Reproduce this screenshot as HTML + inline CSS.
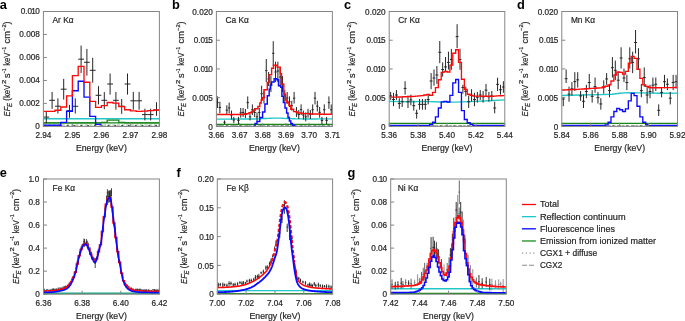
<!DOCTYPE html>
<html><head><meta charset="utf-8"><title>Figure</title>
<style>html,body{margin:0;padding:0;background:#fff;} svg{display:block;filter:grayscale(0%);} text{font-family:"Liberation Sans", sans-serif;stroke:#262626;stroke-width:0.2px;} text.L{stroke:none;}</style>
</head><body>
<svg width="685" height="321" viewBox="0 0 685 321">
<rect width="685" height="321" fill="#fff"/>
<g id="panel-a">
<clipPath id="clip-a"><rect x="43.4" y="-8.5" width="116.00" height="134.90"/></clipPath>
<g clip-path="url(#clip-a)">
<line x1="43.40" y1="125.00" x2="159.40" y2="125.00" stroke="#9a9a9a" stroke-width="0.9" stroke-dasharray="3 1.6"/><line x1="46.40" y1="125.70" x2="159.40" y2="125.70" stroke="#0d6b0d" stroke-width="1.3" stroke-dasharray="1.8 5.0"/>
<path d="M43.40,118.70 L159.40,118.70" stroke="#22c7c7" stroke-width="1.4" fill="none" stroke-linejoin="miter" />
<path d="M43.40,122.90 L159.40,122.90" stroke="#178717" stroke-width="1.4" fill="none" stroke-linejoin="miter" />
<path d="M43.40,122.90H49.20V122.90H55.00V122.90H60.80V122.90H66.60V122.90H72.40V122.90H78.20V122.90H84.00V122.90H89.80V122.90H95.60V122.90H101.40V122.40H107.20V120.10H113.00V120.10H118.80V122.40H124.60V122.90H130.40V122.90H136.20V122.90H142.00V122.90H147.80V122.90H153.60V122.90H159.40" stroke="#178717" stroke-width="1.3" fill="none" stroke-linejoin="miter" />
<path d="M46.30,112.00V123.20M43.40,117.10H49.20M52.10,91.90V108.80M49.20,100.30H55.00M57.90,98.30V113.50M55.00,106.20H60.80M63.70,78.90V99.60M60.80,89.20H66.60M69.50,104.90V117.70M66.60,110.80H72.40M75.30,98.30V113.50M72.40,106.30H78.20M81.10,45.60V73.00M78.20,59.20H84.00M86.90,48.90V75.60M84.00,62.30H89.80M92.70,57.80V82.70M89.80,70.30H95.60M98.50,86.20V104.40M95.60,95.30H101.40M104.30,92.10V109.20M101.40,100.30H107.20M110.10,73.50V94.60M107.20,84.00H113.00M115.90,91.90V109.70M113.00,100.30H118.80M121.70,99.00V113.90M118.80,106.20H124.60M127.50,73.50V94.60M124.60,84.00H130.40M133.30,91.90V109.70M130.40,100.80H136.20M139.10,91.90V109.70M136.20,100.80H142.00M144.90,108.70V120.40M142.00,114.60H147.80M150.70,108.70V120.40M147.80,114.60H153.60M156.50,102.20V115.80M153.60,110.10H159.40" stroke="#262626" stroke-width="1.0" fill="none"/>
<path d="M43.40,125.20H49.20V125.20H55.00V125.20H60.80V122.30H66.60V111.20H72.40V90.70H78.20V81.20H84.00V97.10H89.80V116.40H95.60V124.30H101.40V126.80H107.20V126.80H113.00V126.80H118.80V126.80H124.60V126.80H130.40V126.80H136.20V126.80H142.00V126.80H147.80V126.80H153.60V126.80H159.40" stroke="#0a0aff" stroke-width="1.35" fill="none" stroke-linejoin="miter" />
<path d="M43.40,111.40H49.20V111.40H55.00V110.20H60.80V107.00H66.60V95.80H72.40V75.60H78.20V66.40H84.00V82.20H89.80V101.40H95.60V107.30H101.40V105.60H107.20V102.50H113.00V103.10H118.80V106.60H124.60V109.70H130.40V110.90H136.20V111.30H142.00V111.10H147.80V110.60H153.60V110.00H159.40" stroke="#ff0a0a" stroke-width="1.35" fill="none" stroke-linejoin="miter" />
</g>
<rect x="43.4" y="11.5" width="116.00" height="114.90" fill="none" stroke="#858585" stroke-width="1"/>
<line x1="43.40" y1="126.4" x2="43.40" y2="122.90" stroke="#858585" stroke-width="1"/>
<line x1="72.40" y1="126.4" x2="72.40" y2="122.90" stroke="#858585" stroke-width="1"/>
<line x1="101.40" y1="126.4" x2="101.40" y2="122.90" stroke="#858585" stroke-width="1"/>
<line x1="130.40" y1="126.4" x2="130.40" y2="122.90" stroke="#858585" stroke-width="1"/>
<line x1="159.40" y1="126.4" x2="159.40" y2="122.90" stroke="#858585" stroke-width="1"/>
<line x1="43.4" y1="126.40" x2="46.90" y2="126.40" stroke="#858585" stroke-width="1"/>
<line x1="43.4" y1="103.42" x2="46.90" y2="103.42" stroke="#858585" stroke-width="1"/>
<line x1="43.4" y1="80.44" x2="46.90" y2="80.44" stroke="#858585" stroke-width="1"/>
<line x1="43.4" y1="57.46" x2="46.90" y2="57.46" stroke="#858585" stroke-width="1"/>
<line x1="43.4" y1="34.48" x2="46.90" y2="34.48" stroke="#858585" stroke-width="1"/>
<line x1="43.4" y1="11.50" x2="46.90" y2="11.50" stroke="#858585" stroke-width="1"/>
<text x="43.40" y="138.10" text-anchor="middle" font-size="8.2" fill="#262626">2.94</text>
<text x="72.40" y="138.10" text-anchor="middle" font-size="8.2" fill="#262626">2.95</text>
<text x="101.40" y="138.10" text-anchor="middle" font-size="8.2" fill="#262626">2.96</text>
<text x="130.40" y="138.10" text-anchor="middle" font-size="8.2" fill="#262626">2.97</text>
<text x="159.40" y="138.10" text-anchor="middle" font-size="8.2" fill="#262626">2.98</text>
<text x="39.80" y="128.85" text-anchor="end" font-size="8.2" fill="#262626">0</text>
<text x="39.80" y="105.87" text-anchor="end" font-size="8.2" fill="#262626">0.002</text>
<text x="39.80" y="82.89" text-anchor="end" font-size="8.2" fill="#262626">0.004</text>
<text x="39.80" y="59.91" text-anchor="end" font-size="8.2" fill="#262626">0.006</text>
<text x="39.80" y="36.93" text-anchor="end" font-size="8.2" fill="#262626">0.008</text>
<text x="39.80" y="13.95" text-anchor="end" font-size="8.2" fill="#262626">0.0<tspan dx="-0.7">1</tspan><tspan dx="-0.7">0</tspan></text>
<text x="101.40" y="150.60" text-anchor="middle" font-size="8.7" fill="#262626" textLength="50.9" lengthAdjust="spacingAndGlyphs">Energy (keV)</text>
<g transform="translate(10.40,0) rotate(-90)"><text x="-116.40" y="0" font-size="8.9" font-style="italic" fill="#262626" textLength="9.70" lengthAdjust="spacingAndGlyphs">EF</text><text x="-107.05" y="1.9" font-size="6.4" font-style="italic" fill="#262626" textLength="4.05" lengthAdjust="spacingAndGlyphs">E</text><text x="-100.70" y="0" font-size="8.9" font-style="normal" fill="#262626" textLength="15.90" lengthAdjust="spacingAndGlyphs">(keV</text><text x="-83.90" y="-4.6" font-size="5.6" font-style="normal" fill="#262626" textLength="4.30" lengthAdjust="spacingAndGlyphs">2</text><text x="-78.10" y="0" font-size="8.9" font-style="normal" fill="#262626" textLength="4.50" lengthAdjust="spacingAndGlyphs">s</text><text x="-73.60" y="-4.6" font-size="5.6" font-style="normal" fill="#262626" textLength="4.90" lengthAdjust="spacingAndGlyphs">−1</text><text x="-65.80" y="0" font-size="8.9" font-style="normal" fill="#262626" textLength="13.30" lengthAdjust="spacingAndGlyphs">keV</text><text x="-52.30" y="-4.6" font-size="5.6" font-style="normal" fill="#262626" textLength="5.40" lengthAdjust="spacingAndGlyphs">−1</text><text x="-43.40" y="0" font-size="8.9" font-style="normal" fill="#262626" textLength="12.40" lengthAdjust="spacingAndGlyphs">cm</text><text x="-30.90" y="-4.6" font-size="5.6" font-style="normal" fill="#262626" textLength="6.60" lengthAdjust="spacingAndGlyphs">−2</text><text x="-24.60" y="0" font-size="8.9" font-style="normal" fill="#262626" textLength="3.00" lengthAdjust="spacingAndGlyphs">)</text></g>
<text x="52.50" y="23.40" font-size="8.7" fill="#262626" textLength="21.07" lengthAdjust="spacingAndGlyphs">Ar Kα</text>
<text x="-0.30" y="8.90" font-size="12.8" font-weight="bold" fill="#000" class="L">a</text>
</g>
<g id="panel-b">
<clipPath id="clip-b"><rect x="216.4" y="-8.5" width="116.00" height="134.90"/></clipPath>
<g clip-path="url(#clip-b)">
<line x1="216.40" y1="125.40" x2="332.40" y2="125.40" stroke="#9a9a9a" stroke-width="0.9" stroke-dasharray="3 1.6"/><line x1="219.40" y1="126.10" x2="332.40" y2="126.10" stroke="#0d6b0d" stroke-width="1.3" stroke-dasharray="1.8 5.0"/>
<path d="M216.40,119.10 L218.40,119.10 L220.40,119.09 L222.40,119.09 L224.40,119.09 L226.40,119.08 L228.40,119.08 L230.40,119.08 L232.40,119.07 L234.40,119.07 L236.40,119.07 L238.40,119.06 L240.40,119.06 L242.40,119.05 L244.40,119.05 L246.40,119.04 L248.40,119.02 L250.40,119.01 L252.40,118.98 L254.40,118.95 L256.40,118.90 L258.40,118.84 L260.40,118.76 L262.40,118.66 L264.40,118.56 L266.40,118.45 L268.40,118.34 L270.40,118.24 L272.40,118.16 L274.40,118.11 L276.40,118.10 L278.40,118.12 L280.40,118.17 L282.40,118.25 L284.40,118.35 L286.40,118.46 L288.40,118.56 L290.40,118.65 L292.40,118.73 L294.40,118.80 L296.40,118.85 L298.40,118.89 L300.40,118.91 L302.40,118.92 L304.40,118.93 L306.40,118.94 L308.40,118.94 L310.40,118.94 L312.40,118.93 L314.40,118.93 L316.40,118.93 L318.40,118.92 L320.40,118.92 L322.40,118.92 L324.40,118.91 L326.40,118.91 L328.40,118.91 L330.40,118.90 L332.40,118.90" stroke="#22c7c7" stroke-width="1.4" fill="none" stroke-linejoin="miter" />
<path d="M216.40,124.40 L332.40,124.40" stroke="#178717" stroke-width="1.4" fill="none" stroke-linejoin="miter" />
<path d="M217.56,96.40V108.00M216.40,102.60H218.72M219.88,101.70V113.30M218.72,107.50H221.04M224.52,120.40V124.00M223.36,122.20H225.68M226.84,105.30V115.00M225.68,110.15H228.00M229.16,102.60V113.30M228.00,107.95H230.32M231.48,110.60V119.50M230.32,115.05H232.64M233.80,116.90V123.10M232.64,120.00H234.96M238.44,116.90V124.00M237.28,120.45H239.60M240.76,108.00V117.70M239.60,112.85H241.92M243.08,108.00V116.90M241.92,112.45H244.24M245.40,109.00V118.00M244.24,113.50H246.56M247.72,96.40V108.80M246.56,102.60H248.88M250.04,113.30V120.40M248.88,116.85H251.20M252.36,104.40V115.00M251.20,109.70H253.52M254.68,108.00V117.00M253.52,112.50H255.84M257.00,112.40V121.30M255.84,116.85H258.16M259.32,108.00V117.00M258.16,112.50H260.48M261.64,85.70V100.00M260.48,93.70H262.80M263.96,91.00V103.50M262.80,97.30H265.12M266.28,59.00V82.20M265.12,70.60H267.44M268.60,72.00V86.00M267.44,79.00H269.76M270.92,76.00V92.00M269.76,84.00H272.08M273.24,41.20V66.00M272.08,53.30H274.40M275.56,61.70V82.00M274.40,72.00H276.72M277.88,61.70V82.00M276.72,71.00H279.04M280.20,66.80V87.00M279.04,77.00H281.36M282.52,76.00V92.00M281.36,84.00H283.68M284.84,90.10V101.70M283.68,95.90H286.00M287.16,92.00V104.00M286.00,98.00H288.32M289.48,96.40V107.00M288.32,101.70H290.64M291.80,100.80V110.60M290.64,105.70H292.96M294.12,91.90V103.50M292.96,98.20H295.28M296.44,107.00V116.90M295.28,111.95H297.60M298.76,110.00V119.00M297.60,114.50H299.92M301.08,104.40V115.00M299.92,109.70H302.24M303.40,110.60V119.50M302.24,115.05H304.56M305.72,112.40V121.30M304.56,116.85H306.88M308.04,108.80V117.70M306.88,113.25H309.20M310.36,110.00V119.00M309.20,114.50H311.52M312.68,104.40V115.00M311.52,109.70H313.84M315.00,91.90V104.40M313.84,98.15H316.16M317.32,100.80V111.50M316.16,106.15H318.48M319.64,107.00V117.70M318.48,112.35H320.80M321.96,116.90V124.00M320.80,120.45H323.12M324.28,104.40V115.00M323.12,109.70H325.44M326.60,116.90V124.00M325.44,120.45H327.76M328.92,96.40V108.80M327.76,102.60H330.08M331.24,104.40V115.00M330.08,109.70H332.40" stroke="#262626" stroke-width="1.0" fill="none"/>
<path d="M216.40,126.80H255.10V123.50H257.00V121.50H259.80V117.50H262.60V112.00H264.90V104.00H267.30V95.80H269.20V89.10H270.30V85.30H271.60V82.00H274.10V78.60H277.00V79.70H278.50V85.70H280.80V87.20H281.90V96.20H283.40V102.50H285.00V108.00H286.60V113.00H288.00V117.50H289.40V121.00H290.80V123.50H292.50V125.30H294.50V126.80H332.40" stroke="#0a0aff" stroke-width="1.45" fill="none" stroke-linejoin="miter" />
<path d="M216.40,114.50H238.00V114.50H243.00V114.20H246.70V113.60H249.00V112.80H251.40V111.60H253.30V110.30H255.10V108.80H257.90V106.40H259.80V103.00H261.20V100.00H262.50V97.70H264.00V89.80H267.30V82.40H269.20V74.70H271.60V68.20H273.50V65.20H277.20V67.10H280.20V73.80H281.50V84.20H283.80V94.30H285.60V100.00H286.80V102.50H288.90V105.50H290.80V109.20H293.60V111.60H297.00V113.00H302.00V113.60H310.00V114.00H320.00V114.20H332.40" stroke="#ff0a0a" stroke-width="1.45" fill="none" stroke-linejoin="miter" />
</g>
<rect x="216.4" y="11.5" width="116.00" height="114.90" fill="none" stroke="#858585" stroke-width="1"/>
<line x1="216.40" y1="126.4" x2="216.40" y2="122.90" stroke="#858585" stroke-width="1"/>
<line x1="239.60" y1="126.4" x2="239.60" y2="122.90" stroke="#858585" stroke-width="1"/>
<line x1="262.80" y1="126.4" x2="262.80" y2="122.90" stroke="#858585" stroke-width="1"/>
<line x1="286.00" y1="126.4" x2="286.00" y2="122.90" stroke="#858585" stroke-width="1"/>
<line x1="309.20" y1="126.4" x2="309.20" y2="122.90" stroke="#858585" stroke-width="1"/>
<line x1="332.40" y1="126.4" x2="332.40" y2="122.90" stroke="#858585" stroke-width="1"/>
<line x1="216.4" y1="126.40" x2="219.90" y2="126.40" stroke="#858585" stroke-width="1"/>
<line x1="216.4" y1="97.68" x2="219.90" y2="97.68" stroke="#858585" stroke-width="1"/>
<line x1="216.4" y1="68.95" x2="219.90" y2="68.95" stroke="#858585" stroke-width="1"/>
<line x1="216.4" y1="40.22" x2="219.90" y2="40.22" stroke="#858585" stroke-width="1"/>
<line x1="216.4" y1="11.50" x2="219.90" y2="11.50" stroke="#858585" stroke-width="1"/>
<text x="216.40" y="138.10" text-anchor="middle" font-size="8.2" fill="#262626">3.66</text>
<text x="239.60" y="138.10" text-anchor="middle" font-size="8.2" fill="#262626">3.67</text>
<text x="262.80" y="138.10" text-anchor="middle" font-size="8.2" fill="#262626">3.68</text>
<text x="286.00" y="138.10" text-anchor="middle" font-size="8.2" fill="#262626">3.69</text>
<text x="309.20" y="138.10" text-anchor="middle" font-size="8.2" fill="#262626">3.70</text>
<text x="332.40" y="138.10" text-anchor="middle" font-size="8.2" fill="#262626">3.7<tspan dx="-0.7">1</tspan></text>
<text x="212.80" y="129.60" text-anchor="end" font-size="8.2" fill="#262626">0</text>
<text x="212.80" y="100.88" text-anchor="end" font-size="8.2" fill="#262626">0.005</text>
<text x="212.80" y="72.15" text-anchor="end" font-size="8.2" fill="#262626">0.0<tspan dx="-0.7">1</tspan><tspan dx="-0.7">0</tspan></text>
<text x="212.80" y="43.42" text-anchor="end" font-size="8.2" fill="#262626">0.0<tspan dx="-0.7">1</tspan><tspan dx="-0.7">5</tspan></text>
<text x="212.80" y="14.70" text-anchor="end" font-size="8.2" fill="#262626">0.020</text>
<text x="274.40" y="150.60" text-anchor="middle" font-size="8.7" fill="#262626" textLength="50.9" lengthAdjust="spacingAndGlyphs">Energy (keV)</text>
<g transform="translate(184.10,0) rotate(-90)"><text x="-116.40" y="0" font-size="8.9" font-style="italic" fill="#262626" textLength="9.70" lengthAdjust="spacingAndGlyphs">EF</text><text x="-107.05" y="1.9" font-size="6.4" font-style="italic" fill="#262626" textLength="4.05" lengthAdjust="spacingAndGlyphs">E</text><text x="-100.70" y="0" font-size="8.9" font-style="normal" fill="#262626" textLength="15.90" lengthAdjust="spacingAndGlyphs">(keV</text><text x="-83.90" y="-4.6" font-size="5.6" font-style="normal" fill="#262626" textLength="4.30" lengthAdjust="spacingAndGlyphs">2</text><text x="-78.10" y="0" font-size="8.9" font-style="normal" fill="#262626" textLength="4.50" lengthAdjust="spacingAndGlyphs">s</text><text x="-73.60" y="-4.6" font-size="5.6" font-style="normal" fill="#262626" textLength="4.90" lengthAdjust="spacingAndGlyphs">−1</text><text x="-65.80" y="0" font-size="8.9" font-style="normal" fill="#262626" textLength="13.30" lengthAdjust="spacingAndGlyphs">keV</text><text x="-52.30" y="-4.6" font-size="5.6" font-style="normal" fill="#262626" textLength="5.40" lengthAdjust="spacingAndGlyphs">−1</text><text x="-43.40" y="0" font-size="8.9" font-style="normal" fill="#262626" textLength="12.40" lengthAdjust="spacingAndGlyphs">cm</text><text x="-30.90" y="-4.6" font-size="5.6" font-style="normal" fill="#262626" textLength="6.60" lengthAdjust="spacingAndGlyphs">−2</text><text x="-24.60" y="0" font-size="8.9" font-style="normal" fill="#262626" textLength="3.00" lengthAdjust="spacingAndGlyphs">)</text></g>
<text x="225.50" y="23.40" font-size="8.7" fill="#262626" textLength="23.40" lengthAdjust="spacingAndGlyphs">Ca Kα</text>
<text x="172.10" y="8.90" font-size="12.8" font-weight="bold" fill="#000" class="L">b</text>
</g>
<g id="panel-c">
<clipPath id="clip-c"><rect x="389.2" y="-8.5" width="115.60" height="134.90"/></clipPath>
<g clip-path="url(#clip-c)">
<line x1="389.20" y1="125.40" x2="504.80" y2="125.40" stroke="#9a9a9a" stroke-width="0.9" stroke-dasharray="3 1.6"/><line x1="392.20" y1="126.10" x2="504.80" y2="126.10" stroke="#0d6b0d" stroke-width="1.3" stroke-dasharray="1.8 5.0"/>
<path d="M389.20,101.40 L410.00,101.80 L425.00,101.40 L440.00,102.00 L455.00,102.10 L470.00,101.60 L489.00,100.70 L504.80,99.90" stroke="#22c7c7" stroke-width="1.4" fill="none" stroke-linejoin="miter" />
<path d="M389.20,123.40 L504.80,123.40" stroke="#178717" stroke-width="1.4" fill="none" stroke-linejoin="miter" />
<path d="M390.64,91.90V99.90M389.20,95.90H392.09M393.53,92.80V106.20M392.09,99.50H394.98M396.43,90.10V99.90M394.98,95.00H397.87M399.31,98.20V108.80M397.87,103.50H400.76M402.20,96.40V107.00M400.76,101.70H403.65M405.09,81.20V94.60M403.65,88.40H406.54M407.99,95.50V108.00M406.54,101.75H409.43M410.88,94.60V105.30M409.43,99.95H412.32M413.76,100.80V110.60M412.32,105.70H415.21M416.65,109.70V118.60M415.21,113.30H418.10M419.55,99.00V109.70M418.10,104.35H420.99M422.44,99.00V109.70M420.99,104.35H423.88M425.32,99.00V109.70M423.88,104.35H426.77M428.21,94.60V104.40M426.77,99.50H429.66M431.11,73.10V89.20M429.66,81.00H432.55M434.00,69.50V85.70M432.55,78.00H435.44M436.88,66.00V83.90M435.44,75.00H438.33M439.77,41.00V63.20M438.33,52.30H441.22M442.67,62.40V76.60M441.22,69.50H444.11M445.56,57.00V72.20M444.11,66.90H447.00M448.44,51.70V69.50M447.00,62.40H449.89M451.33,48.90V69.80M449.89,59.50H452.78M457.12,24.20V48.20M455.67,36.60H458.56M460.00,48.70V69.80M458.56,59.50H461.45M462.89,84.80V93.70M461.45,87.50H464.34M465.79,86.60V96.40M464.34,91.50H467.23M468.68,95.50V108.00M467.23,101.75H470.12M471.56,89.20V101.70M470.12,95.45H473.01M474.45,92.80V106.20M473.01,99.50H475.90M477.35,91.90V102.60M475.90,97.25H478.79M480.24,90.10V99.90M478.79,95.00H481.68M483.12,91.00V102.60M481.68,96.80H484.57M486.01,83.90V96.40M484.57,90.15H487.46M488.91,91.90V101.70M487.46,96.80H490.35M491.80,91.00V100.80M490.35,95.90H493.24M494.69,101.70V113.30M493.24,108.00H496.13M497.57,77.70V91.00M496.13,84.35H499.02M500.47,84.80V94.60M499.02,89.70H501.91M503.36,81.20V92.80M501.91,87.00H504.80" stroke="#262626" stroke-width="1.0" fill="none"/>
<path d="M389.20,125.30H392.09V125.30H394.98V125.30H397.87V125.30H400.76V125.30H403.65V125.30H406.54V125.30H409.43V125.30H412.32V125.30H415.21V125.30H418.10V125.30H420.99V125.30H423.88V125.30H426.77V125.30H429.66V124.60H432.55V122.20H435.44V116.90H438.33V108.00H441.22V101.80H444.11V101.40H447.00V102.00H449.89V95.40H452.78V82.90H455.67V79.50H458.56V92.30H461.45V110.60H464.34V119.50H467.23V122.70H470.12V124.60H473.01V125.30H475.90V125.30H478.79V125.30H481.68V125.30H484.57V125.30H487.46V125.30H490.35V125.30H493.24V125.30H496.13V125.30H499.02V125.30H501.91V125.30H504.80" stroke="#0a0aff" stroke-width="1.35" fill="none" stroke-linejoin="miter" />
<path d="M389.20,97.25H392.09V97.15H394.98V97.06H397.87V96.96H400.76V96.86H403.65V96.77H406.54V96.67H409.43V96.53H412.32V96.30H415.21V96.07H418.10V95.84H420.99V95.61H423.88V94.99H426.77V94.33H429.66V95.40H432.55V92.30H435.44V87.60H438.33V79.70H441.22V72.30H444.11V71.40H447.00V72.00H449.89V65.10H452.78V53.20H455.67V49.70H458.56V62.30H461.45V79.20H464.34V89.50H467.23V94.20H470.12V95.40H473.01V96.07H475.90V96.11H478.79V96.15H481.68V96.20H484.57V96.24H487.46V96.28H490.35V96.20H493.24V96.05H496.13V95.89H499.02V95.73H501.91V95.58H504.80" stroke="#ff0a0a" stroke-width="1.35" fill="none" stroke-linejoin="miter" />
</g>
<rect x="389.2" y="11.5" width="115.60" height="114.90" fill="none" stroke="#858585" stroke-width="1"/>
<line x1="389.20" y1="126.4" x2="389.20" y2="122.90" stroke="#858585" stroke-width="1"/>
<line x1="418.10" y1="126.4" x2="418.10" y2="122.90" stroke="#858585" stroke-width="1"/>
<line x1="447.00" y1="126.4" x2="447.00" y2="122.90" stroke="#858585" stroke-width="1"/>
<line x1="475.90" y1="126.4" x2="475.90" y2="122.90" stroke="#858585" stroke-width="1"/>
<line x1="504.80" y1="126.4" x2="504.80" y2="122.90" stroke="#858585" stroke-width="1"/>
<line x1="389.2" y1="126.40" x2="392.70" y2="126.40" stroke="#858585" stroke-width="1"/>
<line x1="389.2" y1="97.68" x2="392.70" y2="97.68" stroke="#858585" stroke-width="1"/>
<line x1="389.2" y1="68.95" x2="392.70" y2="68.95" stroke="#858585" stroke-width="1"/>
<line x1="389.2" y1="40.22" x2="392.70" y2="40.22" stroke="#858585" stroke-width="1"/>
<line x1="389.2" y1="11.50" x2="392.70" y2="11.50" stroke="#858585" stroke-width="1"/>
<text x="389.20" y="138.10" text-anchor="middle" font-size="8.2" fill="#262626">5.36</text>
<text x="418.10" y="138.10" text-anchor="middle" font-size="8.2" fill="#262626">5.38</text>
<text x="447.00" y="138.10" text-anchor="middle" font-size="8.2" fill="#262626">5.40</text>
<text x="475.90" y="138.10" text-anchor="middle" font-size="8.2" fill="#262626">5.42</text>
<text x="504.80" y="138.10" text-anchor="middle" font-size="8.2" fill="#262626">5.44</text>
<text x="385.60" y="129.60" text-anchor="end" font-size="8.2" fill="#262626">0</text>
<text x="385.60" y="100.88" text-anchor="end" font-size="8.2" fill="#262626">0.005</text>
<text x="385.60" y="72.15" text-anchor="end" font-size="8.2" fill="#262626">0.0<tspan dx="-0.7">1</tspan><tspan dx="-0.7">0</tspan></text>
<text x="385.60" y="43.42" text-anchor="end" font-size="8.2" fill="#262626">0.0<tspan dx="-0.7">1</tspan><tspan dx="-0.7">5</tspan></text>
<text x="385.60" y="14.70" text-anchor="end" font-size="8.2" fill="#262626">0.020</text>
<text x="447.00" y="150.60" text-anchor="middle" font-size="8.7" fill="#262626" textLength="50.9" lengthAdjust="spacingAndGlyphs">Energy (keV)</text>
<g transform="translate(355.10,0) rotate(-90)"><text x="-116.40" y="0" font-size="8.9" font-style="italic" fill="#262626" textLength="9.70" lengthAdjust="spacingAndGlyphs">EF</text><text x="-107.05" y="1.9" font-size="6.4" font-style="italic" fill="#262626" textLength="4.05" lengthAdjust="spacingAndGlyphs">E</text><text x="-100.70" y="0" font-size="8.9" font-style="normal" fill="#262626" textLength="15.90" lengthAdjust="spacingAndGlyphs">(keV</text><text x="-83.90" y="-4.6" font-size="5.6" font-style="normal" fill="#262626" textLength="4.30" lengthAdjust="spacingAndGlyphs">2</text><text x="-78.10" y="0" font-size="8.9" font-style="normal" fill="#262626" textLength="4.50" lengthAdjust="spacingAndGlyphs">s</text><text x="-73.60" y="-4.6" font-size="5.6" font-style="normal" fill="#262626" textLength="4.90" lengthAdjust="spacingAndGlyphs">−1</text><text x="-65.80" y="0" font-size="8.9" font-style="normal" fill="#262626" textLength="13.30" lengthAdjust="spacingAndGlyphs">keV</text><text x="-52.30" y="-4.6" font-size="5.6" font-style="normal" fill="#262626" textLength="5.40" lengthAdjust="spacingAndGlyphs">−1</text><text x="-43.40" y="0" font-size="8.9" font-style="normal" fill="#262626" textLength="12.40" lengthAdjust="spacingAndGlyphs">cm</text><text x="-30.90" y="-4.6" font-size="5.6" font-style="normal" fill="#262626" textLength="6.60" lengthAdjust="spacingAndGlyphs">−2</text><text x="-24.60" y="0" font-size="8.9" font-style="normal" fill="#262626" textLength="3.00" lengthAdjust="spacingAndGlyphs">)</text></g>
<text x="398.30" y="23.40" font-size="8.7" fill="#262626" textLength="21.53" lengthAdjust="spacingAndGlyphs">Cr Kα</text>
<text x="343.90" y="8.90" font-size="12.8" font-weight="bold" fill="#000" class="L">c</text>
</g>
<g id="panel-d">
<clipPath id="clip-d"><rect x="561.8" y="-8.5" width="115.70" height="134.90"/></clipPath>
<g clip-path="url(#clip-d)">
<line x1="561.80" y1="125.40" x2="677.50" y2="125.40" stroke="#9a9a9a" stroke-width="0.9" stroke-dasharray="3 1.6"/><line x1="564.80" y1="126.10" x2="677.50" y2="126.10" stroke="#0d6b0d" stroke-width="1.3" stroke-dasharray="1.8 5.0"/>
<path d="M561.80,95.50 L580.00,95.00 L600.00,94.60 L612.00,94.20 L620.00,93.20 L628.00,92.60 L640.00,92.90 L660.00,93.20 L677.50,93.10" stroke="#22c7c7" stroke-width="1.4" fill="none" stroke-linejoin="miter" />
<path d="M561.80,123.40 L677.50,123.40" stroke="#178717" stroke-width="1.4" fill="none" stroke-linejoin="miter" />
<path d="M563.25,97.30V106.20M561.80,99.00H564.69M566.14,69.50V83.00M564.69,78.70H567.59M569.03,86.60V101.70M567.59,94.15H570.48M571.92,82.10V95.50M570.48,88.80H573.37M574.82,72.20V91.00M573.37,81.60H576.26M577.71,72.20V87.50M576.26,79.85H579.15M580.60,91.00V100.80M579.15,95.90H582.05M583.49,94.60V108.00M582.05,101.30H584.94M586.39,84.80V98.20M584.94,91.50H587.83M589.28,74.00V89.20M587.83,82.50H590.72M592.17,90.10V102.60M590.72,96.35H593.62M595.06,77.50V92.80M593.62,86.60H596.51M597.96,91.90V103.50M596.51,97.70H599.40M600.85,98.20V109.70M599.40,103.95H602.29M603.74,80.30V93.70M602.30,87.00H605.19M606.63,73.10V84.80M605.19,78.95H608.08M609.53,83.90V97.30M608.08,90.60H610.97M612.42,57.10V77.50M610.97,67.70H613.87M615.31,60.60V80.00M613.87,70.30H616.76M618.20,72.20V89.20M616.76,80.20H619.65M621.10,47.30V68.60M619.65,58.00H622.54M623.99,68.60V82.10M622.54,78.00H625.43M626.88,74.90V90.10M625.43,82.50H628.33M629.77,47.30V68.60M628.33,58.80H631.22M632.67,51.70V73.10M631.22,62.40H634.11M635.56,30.00V53.50M634.11,42.50H637.00M638.45,48.20V69.50M637.01,58.80H639.90M641.34,83.90V97.30M639.90,90.60H642.79M644.24,67.40V86.80M642.79,77.50H645.68M647.13,86.60V103.50M645.68,95.05H648.58M650.02,84.80V98.20M648.58,91.50H651.47M652.91,77.50V92.80M651.47,85.15H654.36M655.81,77.50V91.00M654.36,84.25H657.25M658.70,104.40V116.00M657.25,110.30H660.14M661.59,87.50V97.30M660.14,92.40H663.04M664.48,74.90V88.40M663.04,81.65H665.93M667.38,78.40V90.10M665.93,84.25H668.82M670.27,91.90V104.40M668.82,98.15H671.71M673.16,74.90V90.10M671.71,82.50H674.61M676.05,74.90V88.40M674.61,81.65H677.50" stroke="#262626" stroke-width="1.0" fill="none"/>
<path d="M561.80,125.30H564.69V125.30H567.58V125.30H570.48V125.30H573.37V125.30H576.26V125.30H579.15V125.30H582.05V125.30H584.94V125.30H587.83V125.30H590.72V125.30H593.62V125.30H596.51V125.30H599.40V125.30H602.29V125.30H605.19V124.80H608.08V122.20H610.97V116.90H613.87V111.50H616.76V108.50H619.65V109.70H622.54V111.50H625.43V108.80H628.33V100.80H631.22V93.30H634.11V95.60H637.00V106.20H639.90V116.90H642.79V122.20H645.68V124.60H648.58V125.60H651.47V125.30H654.36V125.30H657.25V125.30H660.14V125.30H663.04V125.30H665.93V125.30H668.82V125.30H671.72V125.30H674.61V125.30H677.50" stroke="#0a0aff" stroke-width="1.35" fill="none" stroke-linejoin="miter" />
<path d="M561.80,90.03H564.69V89.89H567.58V89.74H570.48V89.60H573.37V89.46H576.26V89.31H579.15V89.16H582.05V88.97H584.94V88.77H587.83V88.58H590.72V88.39H593.62V88.20H596.51V88.00H599.40V87.81H602.29V87.00H605.19V86.20H608.08V84.80H610.97V81.00H613.87V75.00H616.76V72.00H619.65V72.40H622.54V74.10H625.43V71.30H628.33V63.10H631.22V56.40H634.11V58.40H637.00V69.20H639.90V78.40H642.79V84.90H645.68V86.30H648.58V87.50H651.47V87.77H654.36V87.74H657.25V87.71H660.14V87.67H663.04V87.64H665.93V87.61H668.82V87.58H671.72V87.55H674.61V87.52H677.50" stroke="#ff0a0a" stroke-width="1.35" fill="none" stroke-linejoin="miter" />
</g>
<rect x="561.8" y="11.5" width="115.70" height="114.90" fill="none" stroke="#858585" stroke-width="1"/>
<line x1="561.80" y1="126.4" x2="561.80" y2="122.90" stroke="#858585" stroke-width="1"/>
<line x1="590.73" y1="126.4" x2="590.73" y2="122.90" stroke="#858585" stroke-width="1"/>
<line x1="619.65" y1="126.4" x2="619.65" y2="122.90" stroke="#858585" stroke-width="1"/>
<line x1="648.58" y1="126.4" x2="648.58" y2="122.90" stroke="#858585" stroke-width="1"/>
<line x1="677.50" y1="126.4" x2="677.50" y2="122.90" stroke="#858585" stroke-width="1"/>
<line x1="561.8" y1="126.40" x2="565.30" y2="126.40" stroke="#858585" stroke-width="1"/>
<line x1="561.8" y1="97.68" x2="565.30" y2="97.68" stroke="#858585" stroke-width="1"/>
<line x1="561.8" y1="68.95" x2="565.30" y2="68.95" stroke="#858585" stroke-width="1"/>
<line x1="561.8" y1="40.22" x2="565.30" y2="40.22" stroke="#858585" stroke-width="1"/>
<line x1="561.8" y1="11.50" x2="565.30" y2="11.50" stroke="#858585" stroke-width="1"/>
<text x="561.80" y="138.10" text-anchor="middle" font-size="8.2" fill="#262626">5.84</text>
<text x="590.73" y="138.10" text-anchor="middle" font-size="8.2" fill="#262626">5.86</text>
<text x="619.65" y="138.10" text-anchor="middle" font-size="8.2" fill="#262626">5.88</text>
<text x="648.58" y="138.10" text-anchor="middle" font-size="8.2" fill="#262626">5.90</text>
<text x="677.50" y="138.10" text-anchor="middle" font-size="8.2" fill="#262626">5.92</text>
<text x="558.20" y="129.60" text-anchor="end" font-size="8.2" fill="#262626">0</text>
<text x="558.20" y="100.88" text-anchor="end" font-size="8.2" fill="#262626">0.005</text>
<text x="558.20" y="72.15" text-anchor="end" font-size="8.2" fill="#262626">0.0<tspan dx="-0.7">1</tspan><tspan dx="-0.7">0</tspan></text>
<text x="558.20" y="43.42" text-anchor="end" font-size="8.2" fill="#262626">0.0<tspan dx="-0.7">1</tspan><tspan dx="-0.7">5</tspan></text>
<text x="558.20" y="14.70" text-anchor="end" font-size="8.2" fill="#262626">0.020</text>
<text x="619.65" y="150.60" text-anchor="middle" font-size="8.7" fill="#262626" textLength="50.9" lengthAdjust="spacingAndGlyphs">Energy (keV)</text>
<g transform="translate(527.80,0) rotate(-90)"><text x="-116.40" y="0" font-size="8.9" font-style="italic" fill="#262626" textLength="9.70" lengthAdjust="spacingAndGlyphs">EF</text><text x="-107.05" y="1.9" font-size="6.4" font-style="italic" fill="#262626" textLength="4.05" lengthAdjust="spacingAndGlyphs">E</text><text x="-100.70" y="0" font-size="8.9" font-style="normal" fill="#262626" textLength="15.90" lengthAdjust="spacingAndGlyphs">(keV</text><text x="-83.90" y="-4.6" font-size="5.6" font-style="normal" fill="#262626" textLength="4.30" lengthAdjust="spacingAndGlyphs">2</text><text x="-78.10" y="0" font-size="8.9" font-style="normal" fill="#262626" textLength="4.50" lengthAdjust="spacingAndGlyphs">s</text><text x="-73.60" y="-4.6" font-size="5.6" font-style="normal" fill="#262626" textLength="4.90" lengthAdjust="spacingAndGlyphs">−1</text><text x="-65.80" y="0" font-size="8.9" font-style="normal" fill="#262626" textLength="13.30" lengthAdjust="spacingAndGlyphs">keV</text><text x="-52.30" y="-4.6" font-size="5.6" font-style="normal" fill="#262626" textLength="5.40" lengthAdjust="spacingAndGlyphs">−1</text><text x="-43.40" y="0" font-size="8.9" font-style="normal" fill="#262626" textLength="12.40" lengthAdjust="spacingAndGlyphs">cm</text><text x="-30.90" y="-4.6" font-size="5.6" font-style="normal" fill="#262626" textLength="6.60" lengthAdjust="spacingAndGlyphs">−2</text><text x="-24.60" y="0" font-size="8.9" font-style="normal" fill="#262626" textLength="3.00" lengthAdjust="spacingAndGlyphs">)</text></g>
<text x="570.90" y="23.40" font-size="8.7" fill="#262626" textLength="24.32" lengthAdjust="spacingAndGlyphs">Mn Kα</text>
<text x="517.00" y="8.90" font-size="12.8" font-weight="bold" fill="#000" class="L">d</text>
</g>
<g id="panel-e">
<clipPath id="clip-e"><rect x="43.5" y="159.0" width="115.90" height="135.20"/></clipPath>
<g clip-path="url(#clip-e)">
<line x1="43.5" y1="293.8" x2="159.4" y2="293.8" stroke="#178717" stroke-width="1.2"/>
<line x1="43.5" y1="293.1" x2="159.4" y2="293.1" stroke="#13a48f" stroke-width="1.3"/>
<path d="M44.23,288.67V291.95M43.62,290.31H44.83M46.08,289.77V291.24M45.48,290.50H46.68M47.11,289.11V290.83M46.51,289.97H47.71M48.91,289.55V291.78M48.31,290.67H49.51M50.27,289.29V291.31M49.67,290.30H50.87M52.08,288.69V290.90M51.48,289.79H52.68M53.28,288.17V290.77M52.68,289.47H53.88M55.06,288.39V290.78M54.46,289.58H55.66M56.64,288.42V290.39M56.04,289.40H57.24M58.29,287.46V290.73M57.69,289.10H58.89M60.04,287.31V290.57M59.44,288.94H60.64M61.32,287.51V289.07M60.72,288.29H61.92M63.05,286.45V289.83M62.45,288.14H63.65M64.30,285.95V288.82M63.70,287.39H64.90M65.60,285.57V289.02M65.00,287.29H66.20M67.41,284.67V287.25M66.81,285.96H68.01M69.02,282.54V286.37M68.42,284.46H69.62M70.14,282.11V284.59M69.54,283.35H70.74M71.82,278.61V280.80M71.22,279.71H72.42M72.96,275.87V279.84M72.36,277.85H73.56M74.61,271.17V275.31M74.01,273.24H75.21M76.13,267.02V270.11M75.53,268.57H76.73M77.17,260.71V265.42M76.57,263.07H77.77M78.31,256.00V260.83M77.71,258.41H78.91M79.47,251.26V257.96M78.87,254.61H80.07M81.05,246.56V250.81M80.45,248.68H81.65M82.66,243.66V247.24M82.06,245.45H83.26M84.37,239.10V247.05M83.77,243.07H84.97M86.19,241.67V245.86M85.59,243.77H86.79M87.28,240.67V247.97M86.68,244.32H87.88M88.30,242.84V249.04M87.70,245.94H88.90M89.91,246.89V253.58M89.31,250.23H90.51M91.50,251.75V256.38M90.90,254.06H92.10M92.79,255.57V259.01M92.19,257.29H93.39M93.84,257.18V261.04M93.24,259.11H94.44M94.97,258.96V263.66M94.37,261.31H95.57M96.61,256.41V260.70M96.01,258.56H97.21M98.09,249.35V255.66M97.49,252.51H98.69M99.52,245.43V250.67M98.92,248.05H100.12M100.67,241.62V245.23M100.07,243.43H101.27M101.87,231.66V236.84M101.27,234.25H102.47M103.42,217.60V222.35M102.82,219.97H104.02M105.12,206.32V211.80M104.52,209.06H105.72M106.58,195.47V206.54M105.98,201.01H107.18M108.40,190.66V202.71M107.80,196.68H109.00M109.57,191.11V202.29M108.97,196.70H110.17M110.68,190.09V201.93M110.08,196.01H111.28M112.28,206.92V212.95M111.68,209.94H112.88M113.63,216.48V225.44M113.03,220.96H114.23M115.13,226.39V232.80M114.53,229.59H115.73M116.43,239.13V243.13M115.83,241.13H117.03M118.16,251.89V257.80M117.56,254.84H118.76M119.92,260.59V266.09M119.32,263.34H120.52M121.61,271.54V273.99M121.01,272.76H122.21M122.69,275.93V279.26M122.09,277.60H123.29M124.46,280.22V284.11M123.86,282.16H125.06M125.70,282.43V285.72M125.10,284.08H126.30M127.25,284.79V287.04M126.65,285.91H127.85M128.82,285.78V288.34M128.22,287.06H129.42M130.21,287.50V290.15M129.61,288.83H130.81M131.49,287.50V290.25M130.89,288.88H132.09M132.99,288.25V290.46M132.39,289.36H133.59M134.07,289.39V291.06M133.47,290.23H134.67M135.84,288.63V290.66M135.24,289.64H136.44M137.19,288.46V290.69M136.59,289.57H137.79M138.90,288.82V290.48M138.30,289.65H139.50M140.03,288.43V291.66M139.43,290.05H140.63M141.23,289.20V291.03M140.63,290.12H141.83M142.77,289.41V291.63M142.17,290.52H143.37M144.03,289.08V292.29M143.43,290.69H144.63M145.29,289.46V291.24M144.69,290.35H145.89M146.56,289.42V290.88M145.96,290.15H147.16M148.27,289.13V291.79M147.67,290.46H148.87M149.82,289.62V292.69M149.22,291.15H150.42M151.49,289.99V292.60M150.89,291.30H152.09M152.98,289.10V290.59M152.38,289.85H153.58M154.48,288.97V291.73M153.88,290.35H155.08M155.65,289.47V291.86M155.05,290.67H156.25M157.02,289.03V291.68M156.42,290.35H157.62M158.25,289.89V291.62M157.65,290.76H158.85M159.36,288.21V291.06M158.76,289.64H159.96M107.40,189.30V197.00M106.80,193.00H108.00M109.80,190.20V197.00M109.20,193.60H110.40M111.50,188.30V196.30M110.90,192.00H112.10M84.00,238.50V245.00M83.40,241.50H84.60M86.40,239.00V246.00M85.80,242.50H87.00M95.20,258.00V268.00M94.60,263.00H95.80" stroke="#202020" stroke-width="0.85" fill="none"/>
<path d="M43.50,291.10H45.43V291.07H47.36V291.01H49.29V290.94H51.22V290.85H53.15V290.66H55.08V290.38H57.01V290.04H58.94V289.66H60.87V289.25H62.80V288.72H64.73V287.96H66.66V286.69H68.59V284.75H70.52V281.39H72.45V277.57H74.38V272.31H76.31V263.95H78.24V255.76H80.17V249.54H82.10V245.18H84.03V243.62H85.96V244.80H87.89V248.74H89.82V254.17H91.75V258.63H93.68V261.69H95.61V258.90H97.54V251.74H99.47V244.68H101.40V231.50H103.33V216.72H105.26V204.28H107.19V197.98H109.12V197.69H111.05V206.98H112.98V223.03H114.91V237.51H116.84V251.82H118.77V262.57H120.70V273.30H122.63V280.77H124.56V284.64H126.49V287.13H128.42V288.58H130.35V289.54H132.28V290.14H134.21V290.43H136.14V290.67H138.07V290.86H140.00V290.99H141.93V291.08H143.86V291.13H145.79V291.17H147.72V291.20H149.65V291.23H151.58V291.26H153.51V291.28H155.44V291.29H157.37V291.30H159.30V291.30H159.40" stroke="#ff0a0a" stroke-width="1.5" fill="none" stroke-linejoin="miter" />
<path d="M43.50,292.40 L43.83,292.40 L44.17,292.40 L44.50,292.40 L44.84,292.39 L45.17,292.39 L45.50,292.38 L45.84,292.38 L46.17,292.37 L46.51,292.36 L46.84,292.36 L47.17,292.35 L47.51,292.34 L47.84,292.33 L48.18,292.32 L48.51,292.31 L48.84,292.30 L49.18,292.28 L49.51,292.27 L49.85,292.26 L50.18,292.25 L50.51,292.23 L50.85,292.22 L51.18,292.21 L51.52,292.19 L51.85,292.17 L52.18,292.15 L52.52,292.12 L52.85,292.10 L53.19,292.06 L53.52,292.03 L53.85,291.99 L54.19,291.95 L54.52,291.91 L54.86,291.86 L55.19,291.82 L55.52,291.77 L55.86,291.71 L56.19,291.66 L56.53,291.60 L56.86,291.55 L57.19,291.49 L57.53,291.43 L57.86,291.37 L58.20,291.30 L58.53,291.24 L58.86,291.17 L59.20,291.11 L59.53,291.04 L59.87,290.97 L60.20,290.90 L60.53,290.83 L60.87,290.77 L61.20,290.69 L61.54,290.62 L61.87,290.54 L62.20,290.46 L62.54,290.37 L62.87,290.28 L63.21,290.19 L63.54,290.09 L63.87,289.98 L64.21,289.87 L64.54,289.75 L64.88,289.62 L65.21,289.48 L65.54,289.34 L65.88,289.17 L66.21,288.99 L66.55,288.78 L66.88,288.56 L67.21,288.32 L67.55,288.06 L67.88,287.78 L68.22,287.48 L68.55,287.16 L68.88,286.83 L69.22,286.47 L69.55,286.06 L69.89,285.58 L70.22,285.05 L70.55,284.48 L70.89,283.87 L71.22,283.24 L71.56,282.58 L71.89,281.92 L72.22,281.23 L72.56,280.49 L72.89,279.71 L73.23,278.89 L73.56,278.03 L73.89,277.14 L74.23,276.22 L74.56,275.27 L74.90,274.29 L75.23,273.25 L75.56,272.14 L75.90,270.96 L76.23,269.67 L76.57,268.16 L76.90,266.50 L77.23,264.76 L77.57,263.05 L77.90,261.45 L78.24,260.05 L78.57,258.72 L78.90,257.46 L79.24,256.24 L79.57,255.07 L79.91,253.96 L80.24,252.89 L80.57,251.87 L80.91,250.84 L81.24,249.80 L81.58,248.80 L81.91,247.87 L82.24,247.06 L82.58,246.42 L82.91,245.96 L83.25,245.57 L83.58,245.19 L83.91,244.86 L84.25,244.58 L84.58,244.37 L84.92,244.24 L85.25,244.20 L85.58,244.27 L85.92,244.45 L86.25,244.70 L86.59,245.02 L86.92,245.39 L87.25,245.79 L87.59,246.22 L87.92,246.82 L88.26,247.62 L88.59,248.55 L88.92,249.55 L89.26,250.57 L89.59,251.54 L89.93,252.43 L90.26,253.33 L90.59,254.25 L90.93,255.16 L91.26,256.05 L91.60,256.89 L91.93,257.65 L92.26,258.32 L92.60,258.99 L92.93,259.67 L93.27,260.34 L93.60,260.97 L93.93,261.52 L94.27,261.96 L94.60,262.26 L94.94,262.40 L95.27,262.29 L95.60,261.87 L95.94,261.21 L96.27,260.37 L96.61,259.40 L96.94,258.38 L97.27,257.37 L97.61,256.26 L97.94,254.90 L98.28,253.40 L98.61,251.85 L98.94,250.35 L99.28,249.00 L99.61,247.86 L99.95,246.83 L100.28,245.79 L100.61,244.63 L100.95,243.24 L101.28,241.39 L101.62,238.73 L101.95,235.69 L102.29,232.78 L102.62,229.87 L102.95,226.93 L103.29,224.16 L103.62,221.71 L103.96,219.48 L104.29,217.36 L104.62,215.27 L104.96,213.12 L105.29,210.81 L105.63,208.47 L105.96,206.32 L106.29,204.54 L106.63,202.92 L106.96,201.45 L107.30,200.24 L107.63,199.45 L107.96,198.88 L108.30,198.37 L108.63,197.97 L108.97,197.70 L109.30,197.60 L109.63,197.73 L109.97,198.11 L110.30,198.68 L110.64,199.40 L110.97,200.40 L111.30,202.36 L111.64,204.82 L111.97,207.24 L112.31,209.89 L112.64,212.67 L112.97,215.46 L113.31,218.37 L113.64,221.24 L113.98,223.85 L114.31,226.11 L114.64,228.21 L114.98,230.36 L115.31,232.79 L115.65,235.82 L115.98,239.14 L116.31,242.10 L116.65,244.46 L116.98,246.57 L117.32,248.71 L117.65,251.18 L117.98,253.85 L118.32,256.29 L118.65,258.19 L118.99,259.79 L119.32,261.27 L119.65,262.78 L119.99,264.47 L120.32,266.39 L120.66,268.41 L120.99,270.37 L121.32,272.13 L121.66,273.84 L121.99,275.50 L122.33,277.06 L122.66,278.47 L122.99,279.68 L123.33,280.74 L123.66,281.74 L124.00,282.67 L124.33,283.53 L124.66,284.31 L125.00,285.01 L125.33,285.62 L125.67,286.16 L126.00,286.65 L126.33,287.12 L126.67,287.55 L127.00,287.96 L127.34,288.33 L127.67,288.66 L128.00,288.96 L128.34,289.22 L128.67,289.45 L129.01,289.65 L129.34,289.85 L129.67,290.04 L130.01,290.22 L130.34,290.39 L130.68,290.56 L131.01,290.71 L131.34,290.85 L131.68,290.98 L132.01,291.10 L132.35,291.21 L132.68,291.30 L133.01,291.39 L133.35,291.46 L133.68,291.51 L134.02,291.57 L134.35,291.62 L134.68,291.66 L135.02,291.71 L135.35,291.76 L135.69,291.80 L136.02,291.84 L136.35,291.89 L136.69,291.92 L137.02,291.96 L137.36,292.00 L137.69,292.03 L138.02,292.07 L138.36,292.10 L138.69,292.13 L139.03,292.16 L139.36,292.18 L139.69,292.21 L140.03,292.23 L140.36,292.26 L140.70,292.28 L141.03,292.30 L141.36,292.32 L141.70,292.33 L142.03,292.35 L142.37,292.36 L142.70,292.37 L143.03,292.38 L143.37,292.39 L143.70,292.40 L144.04,292.41 L144.37,292.42 L144.70,292.43 L145.04,292.43 L145.37,292.44 L145.71,292.45 L146.04,292.45 L146.37,292.46 L146.71,292.47 L147.04,292.47 L147.38,292.48 L147.71,292.49 L148.04,292.49 L148.38,292.50 L148.71,292.50 L149.05,292.51 L149.38,292.52 L149.71,292.52 L150.05,292.53 L150.38,292.53 L150.72,292.54 L151.05,292.54 L151.38,292.54 L151.72,292.55 L152.05,292.55 L152.39,292.56 L152.72,292.56 L153.05,292.56 L153.39,292.57 L153.72,292.57 L154.06,292.57 L154.39,292.58 L154.72,292.58 L155.06,292.58 L155.39,292.59 L155.73,292.59 L156.06,292.59 L156.39,292.59 L156.73,292.59 L157.06,292.60 L157.40,292.60 L157.73,292.60 L158.06,292.60 L158.40,292.60 L158.73,292.60 L159.07,292.60 L159.40,292.60" stroke="#0a0aff" stroke-width="1.7" fill="none" stroke-linejoin="miter" stroke-linejoin="round"/>
</g>
<rect x="43.5" y="179.0" width="115.90" height="115.20" fill="none" stroke="#858585" stroke-width="1"/>
<line x1="43.50" y1="294.2" x2="43.50" y2="290.70" stroke="#858585" stroke-width="1"/>
<line x1="82.13" y1="294.2" x2="82.13" y2="290.70" stroke="#858585" stroke-width="1"/>
<line x1="120.77" y1="294.2" x2="120.77" y2="290.70" stroke="#858585" stroke-width="1"/>
<line x1="159.40" y1="294.2" x2="159.40" y2="290.70" stroke="#858585" stroke-width="1"/>
<line x1="43.5" y1="294.20" x2="47.00" y2="294.20" stroke="#858585" stroke-width="1"/>
<line x1="43.5" y1="271.16" x2="47.00" y2="271.16" stroke="#858585" stroke-width="1"/>
<line x1="43.5" y1="248.12" x2="47.00" y2="248.12" stroke="#858585" stroke-width="1"/>
<line x1="43.5" y1="225.08" x2="47.00" y2="225.08" stroke="#858585" stroke-width="1"/>
<line x1="43.5" y1="202.04" x2="47.00" y2="202.04" stroke="#858585" stroke-width="1"/>
<line x1="43.5" y1="179.00" x2="47.00" y2="179.00" stroke="#858585" stroke-width="1"/>
<text x="43.50" y="306.20" text-anchor="middle" font-size="8.2" fill="#262626">6.36</text>
<text x="82.13" y="306.20" text-anchor="middle" font-size="8.2" fill="#262626">6.38</text>
<text x="120.77" y="306.20" text-anchor="middle" font-size="8.2" fill="#262626">6.40</text>
<text x="159.40" y="306.20" text-anchor="middle" font-size="8.2" fill="#262626">6.42</text>
<text x="39.90" y="297.40" text-anchor="end" font-size="8.2" fill="#262626">0</text>
<text x="39.90" y="274.36" text-anchor="end" font-size="8.2" fill="#262626">0.2</text>
<text x="39.90" y="251.32" text-anchor="end" font-size="8.2" fill="#262626">0.4</text>
<text x="39.90" y="228.28" text-anchor="end" font-size="8.2" fill="#262626">0.6</text>
<text x="39.90" y="205.24" text-anchor="end" font-size="8.2" fill="#262626">0.8</text>
<text x="39.90" y="182.20" text-anchor="end" font-size="8.2" fill="#262626"><tspan dx="-0.7">1</tspan><tspan dx="-0.7">.</tspan>0</text>
<text x="101.45" y="319.20" text-anchor="middle" font-size="8.7" fill="#262626" textLength="50.9" lengthAdjust="spacingAndGlyphs">Energy (keV)</text>
<g transform="translate(19.00,0) rotate(-90)"><text x="-283.90" y="0" font-size="8.9" font-style="italic" fill="#262626" textLength="9.70" lengthAdjust="spacingAndGlyphs">EF</text><text x="-274.55" y="1.9" font-size="6.4" font-style="italic" fill="#262626" textLength="4.05" lengthAdjust="spacingAndGlyphs">E</text><text x="-268.20" y="0" font-size="8.9" font-style="normal" fill="#262626" textLength="15.90" lengthAdjust="spacingAndGlyphs">(keV</text><text x="-251.40" y="-4.6" font-size="5.6" font-style="normal" fill="#262626" textLength="4.30" lengthAdjust="spacingAndGlyphs">2</text><text x="-245.60" y="0" font-size="8.9" font-style="normal" fill="#262626" textLength="4.50" lengthAdjust="spacingAndGlyphs">s</text><text x="-241.10" y="-4.6" font-size="5.6" font-style="normal" fill="#262626" textLength="4.90" lengthAdjust="spacingAndGlyphs">−1</text><text x="-233.30" y="0" font-size="8.9" font-style="normal" fill="#262626" textLength="13.30" lengthAdjust="spacingAndGlyphs">keV</text><text x="-219.80" y="-4.6" font-size="5.6" font-style="normal" fill="#262626" textLength="5.40" lengthAdjust="spacingAndGlyphs">−1</text><text x="-210.90" y="0" font-size="8.9" font-style="normal" fill="#262626" textLength="12.40" lengthAdjust="spacingAndGlyphs">cm</text><text x="-198.40" y="-4.6" font-size="5.6" font-style="normal" fill="#262626" textLength="6.60" lengthAdjust="spacingAndGlyphs">−2</text><text x="-192.10" y="0" font-size="8.9" font-style="normal" fill="#262626" textLength="3.00" lengthAdjust="spacingAndGlyphs">)</text></g>
<text x="52.60" y="190.90" font-size="8.7" fill="#262626" textLength="22.47" lengthAdjust="spacingAndGlyphs">Fe Kα</text>
<text x="-0.20" y="177.00" font-size="12.8" font-weight="bold" fill="#000" class="L">e</text>
</g>
<g id="panel-f">
<clipPath id="clip-f"><rect x="217.3" y="159.0" width="115.30" height="135.20"/></clipPath>
<g clip-path="url(#clip-f)">
<line x1="217.3" y1="290.6" x2="332.6" y2="290.6" stroke="#22c7c7" stroke-width="1.4"/>
<line x1="217.3" y1="293.7" x2="332.6" y2="293.7" stroke="#178717" stroke-width="1.3"/>
<path d="M218.30,282.73V287.29M217.60,285.01H219.00M220.26,282.92V286.19M219.56,284.55H220.96M222.85,282.56V287.16M222.15,284.86H223.55M224.61,283.56V285.99M223.91,284.77H225.31M226.90,283.70V286.96M226.20,285.33H227.60M229.07,281.19V285.85M228.37,283.52H229.77M230.97,281.63V285.29M230.27,283.46H231.67M233.25,283.20V286.65M232.55,284.93H233.95M235.06,282.66V286.34M234.36,284.50H235.76M237.57,282.26V285.80M236.87,284.03H238.27M239.95,281.14V284.02M239.25,282.58H240.65M241.94,281.40V286.03M241.24,283.72H242.64M243.41,281.11V284.64M242.71,282.87H244.11M245.46,281.94V284.30M244.76,283.12H246.16M246.92,279.68V282.67M246.22,281.17H247.62M249.38,278.73V282.93M248.68,280.83H250.08M251.27,278.69V282.34M250.57,280.51H251.97M253.75,277.78V281.74M253.05,279.76H254.45M255.45,274.99V280.08M254.75,277.53H256.15M257.38,274.79V278.37M256.68,276.58H258.08M258.89,273.82V279.05M258.19,276.44H259.59M261.09,271.59V274.01M260.39,272.80H261.79M263.36,269.58V274.04M262.66,271.81H264.06M265.87,265.59V270.18M265.17,267.88H266.57M267.33,265.35V269.01M266.63,267.18H268.03M269.55,261.70V266.07M268.85,263.88H270.25M270.97,258.56V264.43M270.27,261.50H271.67M272.75,254.58V257.63M272.05,256.10H273.45M274.66,246.54V250.45M273.96,248.49H275.36M276.11,240.09V244.45M275.41,242.27H276.81M291.83,236.45V240.78M291.13,238.62H292.53M293.85,255.32V258.78M293.15,257.05H294.55M296.27,269.89V274.48M295.57,272.19H296.97M298.77,276.77V280.42M298.07,278.60H299.47M300.48,278.63V282.10M299.78,280.36H301.18M302.96,280.70V283.25M302.26,281.97H303.66M305.47,281.16V284.81M304.77,282.99H306.17M307.93,283.73V286.21M307.23,284.97H308.63M309.54,282.50V286.34M308.84,284.42H310.24M311.04,283.41V287.36M310.34,285.38H311.74M312.48,284.31V287.21M311.78,285.76H313.18M314.27,282.07V285.78M313.57,283.92H314.97M315.81,283.75V287.49M315.11,285.62H316.51M318.35,282.64V287.20M317.65,284.92H319.05M320.31,284.33V287.08M319.61,285.71H321.01M322.55,284.48V289.21M321.85,286.85H323.25M324.52,284.97V287.46M323.82,286.21H325.22M326.59,284.29V289.18M325.89,286.74H327.29M328.86,284.68V288.78M328.16,286.73H329.56M331.08,285.43V288.78M330.38,287.11H331.78M284.40,200.20V213.80M283.70,205.00H285.10M282.00,215.60V223.00M281.30,219.00H282.70M287.20,223.60V232.00M286.50,227.00H287.90M279.80,228.00V238.00M279.10,233.00H280.50M289.60,232.00V240.00M288.90,236.00H290.30" stroke="#1e1e1e" stroke-width="0.9" fill="none"/>
<clipPath id="fclipA"><rect x="200" y="262" width="140" height="40"/></clipPath><clipPath id="fclipB"><rect x="200" y="190" width="140" height="72"/></clipPath>
<g clip-path="url(#fclipA)"><path d="M217.30,287.60 L217.46,287.60 L217.63,287.59 L217.79,287.59 L217.96,287.59 L218.12,287.58 L218.29,287.58 L218.45,287.57 L218.62,287.57 L218.78,287.56 L218.95,287.56 L219.11,287.55 L219.28,287.55 L219.44,287.54 L219.61,287.54 L219.77,287.53 L219.94,287.53 L220.10,287.52 L220.27,287.52 L220.43,287.51 L220.60,287.51 L220.76,287.50 L220.93,287.49 L221.09,287.49 L221.26,287.48 L221.42,287.47 L221.59,287.47 L221.75,287.46 L221.92,287.45 L222.08,287.45 L222.25,287.44 L222.41,287.43 L222.58,287.43 L222.74,287.42 L222.91,287.41 L223.07,287.40 L223.24,287.40 L223.40,287.39 L223.57,287.38 L223.73,287.38 L223.90,287.37 L224.06,287.36 L224.23,287.35 L224.39,287.34 L224.56,287.34 L224.72,287.33 L224.89,287.32 L225.05,287.31 L225.22,287.30 L225.38,287.30 L225.55,287.29 L225.71,287.28 L225.88,287.27 L226.04,287.26 L226.21,287.25 L226.37,287.24 L226.54,287.24 L226.70,287.23 L226.87,287.22 L227.03,287.21 L227.20,287.20 L227.36,287.19 L227.53,287.18 L227.69,287.17 L227.86,287.16 L228.02,287.15 L228.19,287.14 L228.35,287.13 L228.52,287.12 L228.68,287.11 L228.85,287.09 L229.01,287.08 L229.18,287.07 L229.34,287.06 L229.51,287.05 L229.67,287.04 L229.84,287.03 L230.00,287.01 L230.17,287.00 L230.33,286.99 L230.50,286.98 L230.66,286.96 L230.83,286.95 L230.99,286.94 L231.16,286.93 L231.32,286.91 L231.49,286.90 L231.65,286.88 L231.82,286.87 L231.98,286.86 L232.15,286.84 L232.31,286.83 L232.48,286.81 L232.64,286.80 L232.81,286.78 L232.97,286.77 L233.14,286.75 L233.30,286.74 L233.47,286.72 L233.63,286.71 L233.79,286.69 L233.96,286.68 L234.12,286.66 L234.29,286.64 L234.45,286.63 L234.62,286.61 L234.78,286.59 L234.95,286.57 L235.11,286.56 L235.28,286.54 L235.44,286.52 L235.61,286.50 L235.77,286.48 L235.94,286.46 L236.10,286.44 L236.27,286.42 L236.43,286.40 L236.60,286.38 L236.76,286.35 L236.93,286.33 L237.09,286.31 L237.26,286.29 L237.42,286.26 L237.59,286.24 L237.75,286.22 L237.92,286.19 L238.08,286.17 L238.25,286.14 L238.41,286.11 L238.58,286.09 L238.74,286.06 L238.91,286.03 L239.07,286.01 L239.24,285.98 L239.40,285.95 L239.57,285.92 L239.73,285.89 L239.90,285.86 L240.06,285.83 L240.23,285.80 L240.39,285.77 L240.56,285.74 L240.72,285.71 L240.89,285.68 L241.05,285.65 L241.22,285.61 L241.38,285.58 L241.55,285.55 L241.71,285.51 L241.88,285.48 L242.04,285.44 L242.21,285.41 L242.37,285.37 L242.54,285.34 L242.70,285.30 L242.87,285.26 L243.03,285.23 L243.20,285.19 L243.36,285.15 L243.53,285.11 L243.69,285.07 L243.86,285.03 L244.02,284.99 L244.19,284.95 L244.35,284.91 L244.52,284.87 L244.68,284.82 L244.85,284.78 L245.01,284.73 L245.18,284.68 L245.34,284.63 L245.51,284.57 L245.67,284.52 L245.84,284.47 L246.00,284.41 L246.17,284.35 L246.33,284.30 L246.50,284.24 L246.66,284.18 L246.83,284.11 L246.99,284.05 L247.16,283.99 L247.32,283.93 L247.49,283.86 L247.65,283.79 L247.82,283.73 L247.98,283.66 L248.15,283.59 L248.31,283.52 L248.48,283.45 L248.64,283.38 L248.81,283.31 L248.97,283.24 L249.14,283.17 L249.30,283.10 L249.47,283.02 L249.63,282.95 L249.80,282.88 L249.96,282.80 L250.13,282.73 L250.29,282.65 L250.45,282.58 L250.62,282.50 L250.78,282.43 L250.95,282.35 L251.11,282.28 L251.28,282.20 L251.44,282.13 L251.61,282.05 L251.77,281.97 L251.94,281.90 L252.10,281.82 L252.27,281.74 L252.43,281.66 L252.60,281.58 L252.76,281.50 L252.93,281.41 L253.09,281.33 L253.26,281.25 L253.42,281.16 L253.59,281.08 L253.75,280.99 L253.92,280.90 L254.08,280.81 L254.25,280.73 L254.41,280.64 L254.58,280.54 L254.74,280.45 L254.91,280.36 L255.07,280.27 L255.24,280.17 L255.40,280.08 L255.57,279.98 L255.73,279.89 L255.90,279.79 L256.06,279.69 L256.23,279.59 L256.39,279.49 L256.56,279.39 L256.72,279.29 L256.89,279.18 L257.05,279.08 L257.22,278.98 L257.38,278.87 L257.55,278.76 L257.71,278.66 L257.88,278.55 L258.04,278.44 L258.21,278.33 L258.37,278.22 L258.54,278.10 L258.70,277.98 L258.87,277.87 L259.03,277.74 L259.20,277.62 L259.36,277.50 L259.53,277.37 L259.69,277.24 L259.86,277.12 L260.02,276.99 L260.19,276.85 L260.35,276.72 L260.52,276.58 L260.68,276.45 L260.85,276.31 L261.01,276.17 L261.18,276.03 L261.34,275.89 L261.51,275.75 L261.67,275.61 L261.84,275.46 L262.00,275.32 L262.17,275.17 L262.33,275.03 L262.50,274.88 L262.66,274.73 L262.83,274.59 L262.99,274.44 L263.16,274.29 L263.32,274.15 L263.49,274.00 L263.65,273.85 L263.82,273.70 L263.98,273.55 L264.15,273.40 L264.31,273.25 L264.48,273.09 L264.64,272.94 L264.81,272.78 L264.97,272.61 L265.14,272.45 L265.30,272.28 L265.47,272.10 L265.63,271.92 L265.80,271.74 L265.96,271.55 L266.13,271.36 L266.29,271.16 L266.46,270.96 L266.62,270.75 L266.78,270.53 L266.95,270.31 L267.11,270.08 L267.28,269.85 L267.44,269.61 L267.61,269.37 L267.77,269.12 L267.94,268.87 L268.10,268.61 L268.27,268.34 L268.43,268.07 L268.60,267.79 L268.76,267.50 L268.93,267.21 L269.09,266.91 L269.26,266.61 L269.42,266.30 L269.59,265.98 L269.75,265.66 L269.92,265.33 L270.08,264.99 L270.25,264.65 L270.41,264.30 L270.58,263.94 L270.74,263.58 L270.91,263.21 L271.07,262.83 L271.24,262.43 L271.40,262.02 L271.57,261.59 L271.73,261.15 L271.90,260.69 L272.06,260.21 L272.23,259.72 L272.39,259.22 L272.56,258.70 L272.72,258.17 L272.89,257.63 L273.05,257.08 L273.22,256.52 L273.38,255.95 L273.55,255.37 L273.71,254.78 L273.88,254.18 L274.04,253.58 L274.21,252.97 L274.37,252.35 L274.54,251.74 L274.70,251.10 L274.87,250.43 L275.03,249.73 L275.20,248.99 L275.36,248.24 L275.53,247.48 L275.69,246.71 L275.86,245.95 L276.02,245.21 L276.19,244.48 L276.35,243.78 L276.52,243.14 L276.68,242.53 L276.85,241.94 L277.01,241.35 L277.18,240.75 L277.34,240.11 L277.51,239.42 L277.67,238.66 L277.84,237.80 L278.00,236.78 L278.17,235.60 L278.33,234.29 L278.50,232.89 L278.66,231.42 L278.83,229.93 L278.99,228.44 L279.16,227.00 L279.32,225.62 L279.49,224.33 L279.65,223.04 L279.82,221.74 L279.98,220.45 L280.15,219.18 L280.31,217.95 L280.48,216.78 L280.64,215.68 L280.81,214.67 L280.97,213.69 L281.14,212.73 L281.30,211.78 L281.47,210.85 L281.63,209.96 L281.80,209.12 L281.96,208.33 L282.13,207.61 L282.29,206.97 L282.46,206.41 L282.62,205.95 L282.79,205.53 L282.95,205.11 L283.12,204.71 L283.28,204.32 L283.44,203.94 L283.61,203.59 L283.77,203.27 L283.94,202.97 L284.10,202.72 L284.27,202.50 L284.43,202.32 L284.60,202.19 L284.76,202.12 L284.93,202.10 L285.09,202.14 L285.26,202.23 L285.42,202.38 L285.59,202.57 L285.75,202.80 L285.92,203.07 L286.08,203.38 L286.25,203.71 L286.41,204.07 L286.58,204.45 L286.74,204.85 L286.91,205.26 L287.07,205.68 L287.24,206.10 L287.40,206.59 L287.57,207.18 L287.73,207.84 L287.90,208.57 L288.06,209.37 L288.23,210.23 L288.39,211.13 L288.56,212.07 L288.72,213.03 L288.89,214.02 L289.05,215.03 L289.22,216.12 L289.38,217.31 L289.55,218.58 L289.71,219.92 L289.88,221.31 L290.04,222.74 L290.21,224.19 L290.37,225.65 L290.54,227.19 L290.70,228.80 L290.87,230.47 L291.03,232.16 L291.20,233.88 L291.36,235.58 L291.53,237.27 L291.69,238.93 L291.86,240.60 L292.02,242.28 L292.19,243.95 L292.35,245.60 L292.52,247.21 L292.68,248.78 L292.85,250.35 L293.01,251.90 L293.18,253.42 L293.34,254.88 L293.51,256.26 L293.67,257.55 L293.84,258.78 L294.00,259.95 L294.17,261.09 L294.33,262.19 L294.50,263.26 L294.66,264.30 L294.83,265.33 L294.99,266.34 L295.16,267.34 L295.32,268.38 L295.49,269.43 L295.65,270.48 L295.82,271.53 L295.98,272.55 L296.15,273.53 L296.31,274.44 L296.48,275.29 L296.64,276.04 L296.81,276.68 L296.97,277.22 L297.14,277.71 L297.30,278.16 L297.47,278.59 L297.63,278.99 L297.80,279.37 L297.96,279.72 L298.13,280.05 L298.29,280.36 L298.46,280.66 L298.62,280.93 L298.79,281.19 L298.95,281.43 L299.12,281.66 L299.28,281.88 L299.45,282.09 L299.61,282.30 L299.77,282.49 L299.94,282.67 L300.10,282.85 L300.27,283.02 L300.43,283.18 L300.60,283.33 L300.76,283.47 L300.93,283.60 L301.09,283.72 L301.26,283.84 L301.42,283.95 L301.59,284.06 L301.75,284.17 L301.92,284.28 L302.08,284.38 L302.25,284.48 L302.41,284.58 L302.58,284.67 L302.74,284.76 L302.91,284.85 L303.07,284.94 L303.24,285.03 L303.40,285.11 L303.57,285.19 L303.73,285.27 L303.90,285.34 L304.06,285.42 L304.23,285.49 L304.39,285.56 L304.56,285.63 L304.72,285.69 L304.89,285.75 L305.05,285.82 L305.22,285.88 L305.38,285.93 L305.55,285.99 L305.71,286.04 L305.88,286.09 L306.04,286.14 L306.21,286.19 L306.37,286.24 L306.54,286.29 L306.70,286.34 L306.87,286.39 L307.03,286.43 L307.20,286.48 L307.36,286.52 L307.53,286.57 L307.69,286.61 L307.86,286.65 L308.02,286.69 L308.19,286.74 L308.35,286.78 L308.52,286.82 L308.68,286.86 L308.85,286.90 L309.01,286.93 L309.18,286.97 L309.34,287.01 L309.51,287.04 L309.67,287.08 L309.84,287.12 L310.00,287.15 L310.17,287.18 L310.33,287.22 L310.50,287.25 L310.66,287.28 L310.83,287.31 L310.99,287.34 L311.16,287.37 L311.32,287.40 L311.49,287.43 L311.65,287.45 L311.82,287.48 L311.98,287.51 L312.15,287.53 L312.31,287.56 L312.48,287.58 L312.64,287.60 L312.81,287.62 L312.97,287.65 L313.14,287.67 L313.30,287.69 L313.47,287.71 L313.63,287.73 L313.80,287.75 L313.96,287.76 L314.13,287.78 L314.29,287.80 L314.46,287.82 L314.62,287.84 L314.79,287.85 L314.95,287.87 L315.12,287.88 L315.28,287.90 L315.45,287.92 L315.61,287.93 L315.78,287.95 L315.94,287.96 L316.11,287.98 L316.27,287.99 L316.43,288.00 L316.60,288.02 L316.76,288.03 L316.93,288.05 L317.09,288.06 L317.26,288.07 L317.42,288.08 L317.59,288.10 L317.75,288.11 L317.92,288.12 L318.08,288.13 L318.25,288.15 L318.41,288.16 L318.58,288.17 L318.74,288.18 L318.91,288.19 L319.07,288.20 L319.24,288.22 L319.40,288.23 L319.57,288.24 L319.73,288.25 L319.90,288.26 L320.06,288.27 L320.23,288.28 L320.39,288.29 L320.56,288.30 L320.72,288.32 L320.89,288.33 L321.05,288.34 L321.22,288.35 L321.38,288.36 L321.55,288.37 L321.71,288.38 L321.88,288.39 L322.04,288.40 L322.21,288.41 L322.37,288.42 L322.54,288.44 L322.70,288.45 L322.87,288.46 L323.03,288.47 L323.20,288.48 L323.36,288.49 L323.53,288.50 L323.69,288.51 L323.86,288.52 L324.02,288.53 L324.19,288.54 L324.35,288.55 L324.52,288.56 L324.68,288.57 L324.85,288.58 L325.01,288.60 L325.18,288.61 L325.34,288.62 L325.51,288.63 L325.67,288.64 L325.84,288.65 L326.00,288.66 L326.17,288.67 L326.33,288.68 L326.50,288.69 L326.66,288.70 L326.83,288.70 L326.99,288.71 L327.16,288.72 L327.32,288.73 L327.49,288.74 L327.65,288.75 L327.82,288.76 L327.98,288.77 L328.15,288.78 L328.31,288.79 L328.48,288.80 L328.64,288.81 L328.81,288.82 L328.97,288.82 L329.14,288.83 L329.30,288.84 L329.47,288.85 L329.63,288.86 L329.80,288.87 L329.96,288.88 L330.13,288.88 L330.29,288.89 L330.46,288.90 L330.62,288.91 L330.79,288.92 L330.95,288.93 L331.12,288.93 L331.28,288.94 L331.45,288.95 L331.61,288.96 L331.78,288.96 L331.94,288.97 L332.11,288.98 L332.27,288.99 L332.44,288.99 L332.60,289.00" stroke="#ff0a0a" stroke-width="1.6" fill="none" stroke-linejoin="miter" /></g>
<g clip-path="url(#fclipB)"><path d="M217.30,287.60 L217.46,287.60 L217.63,287.59 L217.79,287.59 L217.96,287.59 L218.12,287.58 L218.29,287.58 L218.45,287.57 L218.62,287.57 L218.78,287.56 L218.95,287.56 L219.11,287.55 L219.28,287.55 L219.44,287.54 L219.61,287.54 L219.77,287.53 L219.94,287.53 L220.10,287.52 L220.27,287.52 L220.43,287.51 L220.60,287.51 L220.76,287.50 L220.93,287.49 L221.09,287.49 L221.26,287.48 L221.42,287.47 L221.59,287.47 L221.75,287.46 L221.92,287.45 L222.08,287.45 L222.25,287.44 L222.41,287.43 L222.58,287.43 L222.74,287.42 L222.91,287.41 L223.07,287.40 L223.24,287.40 L223.40,287.39 L223.57,287.38 L223.73,287.38 L223.90,287.37 L224.06,287.36 L224.23,287.35 L224.39,287.34 L224.56,287.34 L224.72,287.33 L224.89,287.32 L225.05,287.31 L225.22,287.30 L225.38,287.30 L225.55,287.29 L225.71,287.28 L225.88,287.27 L226.04,287.26 L226.21,287.25 L226.37,287.24 L226.54,287.24 L226.70,287.23 L226.87,287.22 L227.03,287.21 L227.20,287.20 L227.36,287.19 L227.53,287.18 L227.69,287.17 L227.86,287.16 L228.02,287.15 L228.19,287.14 L228.35,287.13 L228.52,287.12 L228.68,287.11 L228.85,287.09 L229.01,287.08 L229.18,287.07 L229.34,287.06 L229.51,287.05 L229.67,287.04 L229.84,287.03 L230.00,287.01 L230.17,287.00 L230.33,286.99 L230.50,286.98 L230.66,286.96 L230.83,286.95 L230.99,286.94 L231.16,286.93 L231.32,286.91 L231.49,286.90 L231.65,286.88 L231.82,286.87 L231.98,286.86 L232.15,286.84 L232.31,286.83 L232.48,286.81 L232.64,286.80 L232.81,286.78 L232.97,286.77 L233.14,286.75 L233.30,286.74 L233.47,286.72 L233.63,286.71 L233.79,286.69 L233.96,286.68 L234.12,286.66 L234.29,286.64 L234.45,286.63 L234.62,286.61 L234.78,286.59 L234.95,286.57 L235.11,286.56 L235.28,286.54 L235.44,286.52 L235.61,286.50 L235.77,286.48 L235.94,286.46 L236.10,286.44 L236.27,286.42 L236.43,286.40 L236.60,286.38 L236.76,286.35 L236.93,286.33 L237.09,286.31 L237.26,286.29 L237.42,286.26 L237.59,286.24 L237.75,286.22 L237.92,286.19 L238.08,286.17 L238.25,286.14 L238.41,286.11 L238.58,286.09 L238.74,286.06 L238.91,286.03 L239.07,286.01 L239.24,285.98 L239.40,285.95 L239.57,285.92 L239.73,285.89 L239.90,285.86 L240.06,285.83 L240.23,285.80 L240.39,285.77 L240.56,285.74 L240.72,285.71 L240.89,285.68 L241.05,285.65 L241.22,285.61 L241.38,285.58 L241.55,285.55 L241.71,285.51 L241.88,285.48 L242.04,285.44 L242.21,285.41 L242.37,285.37 L242.54,285.34 L242.70,285.30 L242.87,285.26 L243.03,285.23 L243.20,285.19 L243.36,285.15 L243.53,285.11 L243.69,285.07 L243.86,285.03 L244.02,284.99 L244.19,284.95 L244.35,284.91 L244.52,284.87 L244.68,284.82 L244.85,284.78 L245.01,284.73 L245.18,284.68 L245.34,284.63 L245.51,284.57 L245.67,284.52 L245.84,284.47 L246.00,284.41 L246.17,284.35 L246.33,284.30 L246.50,284.24 L246.66,284.18 L246.83,284.11 L246.99,284.05 L247.16,283.99 L247.32,283.93 L247.49,283.86 L247.65,283.79 L247.82,283.73 L247.98,283.66 L248.15,283.59 L248.31,283.52 L248.48,283.45 L248.64,283.38 L248.81,283.31 L248.97,283.24 L249.14,283.17 L249.30,283.10 L249.47,283.02 L249.63,282.95 L249.80,282.88 L249.96,282.80 L250.13,282.73 L250.29,282.65 L250.45,282.58 L250.62,282.50 L250.78,282.43 L250.95,282.35 L251.11,282.28 L251.28,282.20 L251.44,282.13 L251.61,282.05 L251.77,281.97 L251.94,281.90 L252.10,281.82 L252.27,281.74 L252.43,281.66 L252.60,281.58 L252.76,281.50 L252.93,281.41 L253.09,281.33 L253.26,281.25 L253.42,281.16 L253.59,281.08 L253.75,280.99 L253.92,280.90 L254.08,280.81 L254.25,280.73 L254.41,280.64 L254.58,280.54 L254.74,280.45 L254.91,280.36 L255.07,280.27 L255.24,280.17 L255.40,280.08 L255.57,279.98 L255.73,279.89 L255.90,279.79 L256.06,279.69 L256.23,279.59 L256.39,279.49 L256.56,279.39 L256.72,279.29 L256.89,279.18 L257.05,279.08 L257.22,278.98 L257.38,278.87 L257.55,278.76 L257.71,278.66 L257.88,278.55 L258.04,278.44 L258.21,278.33 L258.37,278.22 L258.54,278.10 L258.70,277.98 L258.87,277.87 L259.03,277.74 L259.20,277.62 L259.36,277.50 L259.53,277.37 L259.69,277.24 L259.86,277.12 L260.02,276.99 L260.19,276.85 L260.35,276.72 L260.52,276.58 L260.68,276.45 L260.85,276.31 L261.01,276.17 L261.18,276.03 L261.34,275.89 L261.51,275.75 L261.67,275.61 L261.84,275.46 L262.00,275.32 L262.17,275.17 L262.33,275.03 L262.50,274.88 L262.66,274.73 L262.83,274.59 L262.99,274.44 L263.16,274.29 L263.32,274.15 L263.49,274.00 L263.65,273.85 L263.82,273.70 L263.98,273.55 L264.15,273.40 L264.31,273.25 L264.48,273.09 L264.64,272.94 L264.81,272.78 L264.97,272.61 L265.14,272.45 L265.30,272.28 L265.47,272.10 L265.63,271.92 L265.80,271.74 L265.96,271.55 L266.13,271.36 L266.29,271.16 L266.46,270.96 L266.62,270.75 L266.78,270.53 L266.95,270.31 L267.11,270.08 L267.28,269.85 L267.44,269.61 L267.61,269.37 L267.77,269.12 L267.94,268.87 L268.10,268.61 L268.27,268.34 L268.43,268.07 L268.60,267.79 L268.76,267.50 L268.93,267.21 L269.09,266.91 L269.26,266.61 L269.42,266.30 L269.59,265.98 L269.75,265.66 L269.92,265.33 L270.08,264.99 L270.25,264.65 L270.41,264.30 L270.58,263.94 L270.74,263.58 L270.91,263.21 L271.07,262.83 L271.24,262.43 L271.40,262.02 L271.57,261.59 L271.73,261.15 L271.90,260.69 L272.06,260.21 L272.23,259.72 L272.39,259.22 L272.56,258.70 L272.72,258.17 L272.89,257.63 L273.05,257.08 L273.22,256.52 L273.38,255.95 L273.55,255.37 L273.71,254.78 L273.88,254.18 L274.04,253.58 L274.21,252.97 L274.37,252.35 L274.54,251.74 L274.70,251.10 L274.87,250.43 L275.03,249.73 L275.20,248.99 L275.36,248.24 L275.53,247.48 L275.69,246.71 L275.86,245.95 L276.02,245.21 L276.19,244.48 L276.35,243.78 L276.52,243.14 L276.68,242.53 L276.85,241.94 L277.01,241.35 L277.18,240.75 L277.34,240.11 L277.51,239.42 L277.67,238.66 L277.84,237.80 L278.00,236.78 L278.17,235.60 L278.33,234.29 L278.50,232.89 L278.66,231.42 L278.83,229.93 L278.99,228.44 L279.16,227.00 L279.32,225.62 L279.49,224.33 L279.65,223.04 L279.82,221.74 L279.98,220.45 L280.15,219.18 L280.31,217.95 L280.48,216.78 L280.64,215.68 L280.81,214.67 L280.97,213.69 L281.14,212.73 L281.30,211.78 L281.47,210.85 L281.63,209.96 L281.80,209.12 L281.96,208.33 L282.13,207.61 L282.29,206.97 L282.46,206.41 L282.62,205.95 L282.79,205.53 L282.95,205.11 L283.12,204.71 L283.28,204.32 L283.44,203.94 L283.61,203.59 L283.77,203.27 L283.94,202.97 L284.10,202.72 L284.27,202.50 L284.43,202.32 L284.60,202.19 L284.76,202.12 L284.93,202.10 L285.09,202.14 L285.26,202.23 L285.42,202.38 L285.59,202.57 L285.75,202.80 L285.92,203.07 L286.08,203.38 L286.25,203.71 L286.41,204.07 L286.58,204.45 L286.74,204.85 L286.91,205.26 L287.07,205.68 L287.24,206.10 L287.40,206.59 L287.57,207.18 L287.73,207.84 L287.90,208.57 L288.06,209.37 L288.23,210.23 L288.39,211.13 L288.56,212.07 L288.72,213.03 L288.89,214.02 L289.05,215.03 L289.22,216.12 L289.38,217.31 L289.55,218.58 L289.71,219.92 L289.88,221.31 L290.04,222.74 L290.21,224.19 L290.37,225.65 L290.54,227.19 L290.70,228.80 L290.87,230.47 L291.03,232.16 L291.20,233.88 L291.36,235.58 L291.53,237.27 L291.69,238.93 L291.86,240.60 L292.02,242.28 L292.19,243.95 L292.35,245.60 L292.52,247.21 L292.68,248.78 L292.85,250.35 L293.01,251.90 L293.18,253.42 L293.34,254.88 L293.51,256.26 L293.67,257.55 L293.84,258.78 L294.00,259.95 L294.17,261.09 L294.33,262.19 L294.50,263.26 L294.66,264.30 L294.83,265.33 L294.99,266.34 L295.16,267.34 L295.32,268.38 L295.49,269.43 L295.65,270.48 L295.82,271.53 L295.98,272.55 L296.15,273.53 L296.31,274.44 L296.48,275.29 L296.64,276.04 L296.81,276.68 L296.97,277.22 L297.14,277.71 L297.30,278.16 L297.47,278.59 L297.63,278.99 L297.80,279.37 L297.96,279.72 L298.13,280.05 L298.29,280.36 L298.46,280.66 L298.62,280.93 L298.79,281.19 L298.95,281.43 L299.12,281.66 L299.28,281.88 L299.45,282.09 L299.61,282.30 L299.77,282.49 L299.94,282.67 L300.10,282.85 L300.27,283.02 L300.43,283.18 L300.60,283.33 L300.76,283.47 L300.93,283.60 L301.09,283.72 L301.26,283.84 L301.42,283.95 L301.59,284.06 L301.75,284.17 L301.92,284.28 L302.08,284.38 L302.25,284.48 L302.41,284.58 L302.58,284.67 L302.74,284.76 L302.91,284.85 L303.07,284.94 L303.24,285.03 L303.40,285.11 L303.57,285.19 L303.73,285.27 L303.90,285.34 L304.06,285.42 L304.23,285.49 L304.39,285.56 L304.56,285.63 L304.72,285.69 L304.89,285.75 L305.05,285.82 L305.22,285.88 L305.38,285.93 L305.55,285.99 L305.71,286.04 L305.88,286.09 L306.04,286.14 L306.21,286.19 L306.37,286.24 L306.54,286.29 L306.70,286.34 L306.87,286.39 L307.03,286.43 L307.20,286.48 L307.36,286.52 L307.53,286.57 L307.69,286.61 L307.86,286.65 L308.02,286.69 L308.19,286.74 L308.35,286.78 L308.52,286.82 L308.68,286.86 L308.85,286.90 L309.01,286.93 L309.18,286.97 L309.34,287.01 L309.51,287.04 L309.67,287.08 L309.84,287.12 L310.00,287.15 L310.17,287.18 L310.33,287.22 L310.50,287.25 L310.66,287.28 L310.83,287.31 L310.99,287.34 L311.16,287.37 L311.32,287.40 L311.49,287.43 L311.65,287.45 L311.82,287.48 L311.98,287.51 L312.15,287.53 L312.31,287.56 L312.48,287.58 L312.64,287.60 L312.81,287.62 L312.97,287.65 L313.14,287.67 L313.30,287.69 L313.47,287.71 L313.63,287.73 L313.80,287.75 L313.96,287.76 L314.13,287.78 L314.29,287.80 L314.46,287.82 L314.62,287.84 L314.79,287.85 L314.95,287.87 L315.12,287.88 L315.28,287.90 L315.45,287.92 L315.61,287.93 L315.78,287.95 L315.94,287.96 L316.11,287.98 L316.27,287.99 L316.43,288.00 L316.60,288.02 L316.76,288.03 L316.93,288.05 L317.09,288.06 L317.26,288.07 L317.42,288.08 L317.59,288.10 L317.75,288.11 L317.92,288.12 L318.08,288.13 L318.25,288.15 L318.41,288.16 L318.58,288.17 L318.74,288.18 L318.91,288.19 L319.07,288.20 L319.24,288.22 L319.40,288.23 L319.57,288.24 L319.73,288.25 L319.90,288.26 L320.06,288.27 L320.23,288.28 L320.39,288.29 L320.56,288.30 L320.72,288.32 L320.89,288.33 L321.05,288.34 L321.22,288.35 L321.38,288.36 L321.55,288.37 L321.71,288.38 L321.88,288.39 L322.04,288.40 L322.21,288.41 L322.37,288.42 L322.54,288.44 L322.70,288.45 L322.87,288.46 L323.03,288.47 L323.20,288.48 L323.36,288.49 L323.53,288.50 L323.69,288.51 L323.86,288.52 L324.02,288.53 L324.19,288.54 L324.35,288.55 L324.52,288.56 L324.68,288.57 L324.85,288.58 L325.01,288.60 L325.18,288.61 L325.34,288.62 L325.51,288.63 L325.67,288.64 L325.84,288.65 L326.00,288.66 L326.17,288.67 L326.33,288.68 L326.50,288.69 L326.66,288.70 L326.83,288.70 L326.99,288.71 L327.16,288.72 L327.32,288.73 L327.49,288.74 L327.65,288.75 L327.82,288.76 L327.98,288.77 L328.15,288.78 L328.31,288.79 L328.48,288.80 L328.64,288.81 L328.81,288.82 L328.97,288.82 L329.14,288.83 L329.30,288.84 L329.47,288.85 L329.63,288.86 L329.80,288.87 L329.96,288.88 L330.13,288.88 L330.29,288.89 L330.46,288.90 L330.62,288.91 L330.79,288.92 L330.95,288.93 L331.12,288.93 L331.28,288.94 L331.45,288.95 L331.61,288.96 L331.78,288.96 L331.94,288.97 L332.11,288.98 L332.27,288.99 L332.44,288.99 L332.60,289.00" stroke="#ff0a0a" stroke-width="2.2" fill="none" stroke-linejoin="miter" stroke-dasharray="3.2 1.8"/></g>
<path d="M217.30,292.20 L217.63,292.20 L217.97,292.20 L218.30,292.19 L218.64,292.19 L218.97,292.19 L219.31,292.18 L219.64,292.17 L219.97,292.17 L220.31,292.16 L220.64,292.15 L220.98,292.14 L221.31,292.13 L221.64,292.12 L221.98,292.11 L222.31,292.10 L222.65,292.09 L222.98,292.08 L223.32,292.07 L223.65,292.06 L223.98,292.05 L224.32,292.04 L224.65,292.02 L224.99,292.01 L225.32,292.00 L225.66,291.99 L225.99,291.97 L226.32,291.96 L226.66,291.94 L226.99,291.92 L227.33,291.91 L227.66,291.89 L227.99,291.87 L228.33,291.84 L228.66,291.82 L229.00,291.80 L229.33,291.78 L229.67,291.75 L230.00,291.73 L230.33,291.70 L230.67,291.67 L231.00,291.65 L231.34,291.62 L231.67,291.59 L232.00,291.56 L232.34,291.53 L232.67,291.50 L233.01,291.47 L233.34,291.43 L233.68,291.40 L234.01,291.37 L234.34,291.34 L234.68,291.30 L235.01,291.27 L235.35,291.23 L235.68,291.19 L236.02,291.15 L236.35,291.11 L236.68,291.07 L237.02,291.03 L237.35,290.98 L237.69,290.94 L238.02,290.89 L238.35,290.84 L238.69,290.79 L239.02,290.74 L239.36,290.69 L239.69,290.63 L240.03,290.58 L240.36,290.52 L240.69,290.46 L241.03,290.40 L241.36,290.34 L241.70,290.27 L242.03,290.21 L242.37,290.14 L242.70,290.08 L243.03,290.01 L243.37,289.94 L243.70,289.87 L244.04,289.79 L244.37,289.72 L244.70,289.64 L245.04,289.55 L245.37,289.47 L245.71,289.38 L246.04,289.29 L246.38,289.19 L246.71,289.09 L247.04,288.99 L247.38,288.88 L247.71,288.77 L248.05,288.66 L248.38,288.54 L248.72,288.42 L249.05,288.30 L249.38,288.17 L249.72,288.04 L250.05,287.91 L250.39,287.77 L250.72,287.64 L251.05,287.49 L251.39,287.35 L251.72,287.20 L252.06,287.04 L252.39,286.87 L252.73,286.70 L253.06,286.51 L253.39,286.32 L253.73,286.12 L254.06,285.91 L254.40,285.70 L254.73,285.48 L255.06,285.26 L255.40,285.03 L255.73,284.80 L256.07,284.57 L256.40,284.33 L256.74,284.09 L257.07,283.85 L257.40,283.61 L257.74,283.36 L258.07,283.12 L258.41,282.88 L258.74,282.63 L259.08,282.38 L259.41,282.12 L259.74,281.86 L260.08,281.59 L260.41,281.32 L260.75,281.05 L261.08,280.77 L261.41,280.49 L261.75,280.20 L262.08,279.90 L262.42,279.60 L262.75,279.30 L263.09,278.99 L263.42,278.67 L263.75,278.35 L264.09,278.02 L264.42,277.69 L264.76,277.36 L265.09,277.02 L265.43,276.68 L265.76,276.33 L266.09,275.97 L266.43,275.60 L266.76,275.23 L267.10,274.84 L267.43,274.44 L267.76,274.02 L268.10,273.59 L268.43,273.14 L268.77,272.68 L269.10,272.20 L269.44,271.69 L269.77,271.15 L270.10,270.56 L270.44,269.94 L270.77,269.27 L271.11,268.57 L271.44,267.83 L271.78,267.06 L272.11,266.22 L272.44,265.30 L272.78,264.31 L273.11,263.27 L273.45,262.20 L273.78,261.11 L274.11,260.03 L274.45,258.97 L274.78,257.95 L275.12,257.02 L275.45,256.11 L275.79,255.17 L276.12,254.14 L276.45,252.98 L276.79,251.61 L277.12,249.89 L277.46,247.83 L277.79,245.53 L278.12,243.07 L278.46,240.55 L278.79,238.05 L279.13,235.48 L279.46,232.73 L279.80,229.92 L280.13,227.14 L280.46,224.50 L280.80,221.79 L281.13,219.08 L281.47,216.63 L281.80,214.69 L282.14,213.15 L282.47,211.75 L282.80,210.53 L283.14,209.54 L283.47,208.84 L283.81,208.34 L284.14,207.90 L284.47,207.57 L284.81,207.41 L285.14,207.46 L285.48,207.70 L285.81,208.09 L286.15,208.56 L286.48,209.14 L286.81,210.05 L287.15,211.26 L287.48,212.70 L287.82,214.29 L288.15,216.10 L288.49,218.36 L288.82,220.96 L289.15,223.75 L289.49,226.69 L289.82,230.01 L290.16,233.50 L290.49,236.91 L290.82,240.31 L291.16,243.61 L291.49,246.74 L291.83,249.74 L292.16,252.47 L292.50,254.82 L292.83,257.05 L293.16,259.51 L293.50,262.46 L293.83,265.24 L294.17,267.65 L294.50,269.89 L294.84,271.96 L295.17,273.84 L295.50,275.59 L295.84,277.29 L296.17,278.87 L296.51,280.28 L296.84,281.44 L297.17,282.35 L297.51,283.14 L297.84,283.85 L298.18,284.49 L298.51,285.05 L298.85,285.54 L299.18,285.96 L299.51,286.33 L299.85,286.67 L300.18,286.98 L300.52,287.28 L300.85,287.55 L301.18,287.80 L301.52,288.04 L301.85,288.25 L302.19,288.45 L302.52,288.63 L302.86,288.79 L303.19,288.94 L303.52,289.07 L303.86,289.21 L304.19,289.33 L304.53,289.45 L304.86,289.56 L305.20,289.67 L305.53,289.77 L305.86,289.87 L306.20,289.96 L306.53,290.04 L306.87,290.13 L307.20,290.20 L307.53,290.28 L307.87,290.35 L308.20,290.41 L308.54,290.47 L308.87,290.53 L309.21,290.59 L309.54,290.64 L309.87,290.69 L310.21,290.74 L310.54,290.79 L310.88,290.84 L311.21,290.89 L311.55,290.93 L311.88,290.97 L312.21,291.01 L312.55,291.05 L312.88,291.09 L313.22,291.13 L313.55,291.17 L313.88,291.20 L314.22,291.23 L314.55,291.26 L314.89,291.29 L315.22,291.32 L315.56,291.35 L315.89,291.38 L316.22,291.40 L316.56,291.43 L316.89,291.45 L317.23,291.48 L317.56,291.50 L317.90,291.52 L318.23,291.55 L318.56,291.57 L318.90,291.60 L319.23,291.62 L319.57,291.64 L319.90,291.67 L320.23,291.69 L320.57,291.71 L320.90,291.73 L321.24,291.76 L321.57,291.78 L321.91,291.80 L322.24,291.82 L322.57,291.84 L322.91,291.86 L323.24,291.88 L323.58,291.90 L323.91,291.92 L324.24,291.94 L324.58,291.96 L324.91,291.98 L325.25,291.99 L325.58,292.01 L325.92,292.03 L326.25,292.04 L326.58,292.06 L326.92,292.07 L327.25,292.09 L327.59,292.10 L327.92,292.11 L328.26,292.12 L328.59,292.13 L328.92,292.14 L329.26,292.15 L329.59,292.16 L329.93,292.17 L330.26,292.18 L330.59,292.18 L330.93,292.19 L331.26,292.19 L331.60,292.20 L331.93,292.20 L332.27,292.20 L332.60,292.20" stroke="#0a0aff" stroke-width="1.85" fill="none" stroke-linejoin="miter" stroke-linejoin="round"/>
</g>
<rect x="217.3" y="179.0" width="115.30" height="115.20" fill="none" stroke="#858585" stroke-width="1"/>
<line x1="217.30" y1="294.2" x2="217.30" y2="290.70" stroke="#858585" stroke-width="1"/>
<line x1="246.12" y1="294.2" x2="246.12" y2="290.70" stroke="#858585" stroke-width="1"/>
<line x1="274.95" y1="294.2" x2="274.95" y2="290.70" stroke="#858585" stroke-width="1"/>
<line x1="303.77" y1="294.2" x2="303.77" y2="290.70" stroke="#858585" stroke-width="1"/>
<line x1="332.60" y1="294.2" x2="332.60" y2="290.70" stroke="#858585" stroke-width="1"/>
<line x1="217.3" y1="294.20" x2="220.80" y2="294.20" stroke="#858585" stroke-width="1"/>
<line x1="217.3" y1="265.40" x2="220.80" y2="265.40" stroke="#858585" stroke-width="1"/>
<line x1="217.3" y1="236.60" x2="220.80" y2="236.60" stroke="#858585" stroke-width="1"/>
<line x1="217.3" y1="207.80" x2="220.80" y2="207.80" stroke="#858585" stroke-width="1"/>
<line x1="217.3" y1="179.00" x2="220.80" y2="179.00" stroke="#858585" stroke-width="1"/>
<text x="217.30" y="306.20" text-anchor="middle" font-size="8.2" fill="#262626">7.00</text>
<text x="246.12" y="306.20" text-anchor="middle" font-size="8.2" fill="#262626">7.02</text>
<text x="274.95" y="306.20" text-anchor="middle" font-size="8.2" fill="#262626">7.04</text>
<text x="303.77" y="306.20" text-anchor="middle" font-size="8.2" fill="#262626">7.06</text>
<text x="332.60" y="306.20" text-anchor="middle" font-size="8.2" fill="#262626">7.08</text>
<text x="213.70" y="297.40" text-anchor="end" font-size="8.2" fill="#262626">0</text>
<text x="213.70" y="268.60" text-anchor="end" font-size="8.2" fill="#262626">0.05</text>
<text x="213.70" y="239.80" text-anchor="end" font-size="8.2" fill="#262626">0.<tspan dx="-0.7">1</tspan><tspan dx="-0.7">0</tspan></text>
<text x="213.70" y="211.00" text-anchor="end" font-size="8.2" fill="#262626">0.<tspan dx="-0.7">1</tspan><tspan dx="-0.7">5</tspan></text>
<text x="213.70" y="182.20" text-anchor="end" font-size="8.2" fill="#262626">0.20</text>
<text x="274.95" y="319.20" text-anchor="middle" font-size="8.7" fill="#262626" textLength="50.9" lengthAdjust="spacingAndGlyphs">Energy (keV)</text>
<g transform="translate(187.00,0) rotate(-90)"><text x="-283.90" y="0" font-size="8.9" font-style="italic" fill="#262626" textLength="9.70" lengthAdjust="spacingAndGlyphs">EF</text><text x="-274.55" y="1.9" font-size="6.4" font-style="italic" fill="#262626" textLength="4.05" lengthAdjust="spacingAndGlyphs">E</text><text x="-268.20" y="0" font-size="8.9" font-style="normal" fill="#262626" textLength="15.90" lengthAdjust="spacingAndGlyphs">(keV</text><text x="-251.40" y="-4.6" font-size="5.6" font-style="normal" fill="#262626" textLength="4.30" lengthAdjust="spacingAndGlyphs">2</text><text x="-245.60" y="0" font-size="8.9" font-style="normal" fill="#262626" textLength="4.50" lengthAdjust="spacingAndGlyphs">s</text><text x="-241.10" y="-4.6" font-size="5.6" font-style="normal" fill="#262626" textLength="4.90" lengthAdjust="spacingAndGlyphs">−1</text><text x="-233.30" y="0" font-size="8.9" font-style="normal" fill="#262626" textLength="13.30" lengthAdjust="spacingAndGlyphs">keV</text><text x="-219.80" y="-4.6" font-size="5.6" font-style="normal" fill="#262626" textLength="5.40" lengthAdjust="spacingAndGlyphs">−1</text><text x="-210.90" y="0" font-size="8.9" font-style="normal" fill="#262626" textLength="12.40" lengthAdjust="spacingAndGlyphs">cm</text><text x="-198.40" y="-4.6" font-size="5.6" font-style="normal" fill="#262626" textLength="6.60" lengthAdjust="spacingAndGlyphs">−2</text><text x="-192.10" y="0" font-size="8.9" font-style="normal" fill="#262626" textLength="3.00" lengthAdjust="spacingAndGlyphs">)</text></g>
<text x="226.40" y="190.90" font-size="8.7" fill="#262626" textLength="22.44" lengthAdjust="spacingAndGlyphs">Fe Kβ</text>
<text x="176.60" y="177.00" font-size="12.8" font-weight="bold" fill="#000" class="L">f</text>
</g>
<g id="panel-g">
<clipPath id="clip-g"><rect x="390.7" y="159.0" width="115.60" height="135.20"/></clipPath>
<g clip-path="url(#clip-g)">
<line x1="390.7" y1="288.7" x2="506.3" y2="288.7" stroke="#22c7c7" stroke-width="1.4"/>
<line x1="390.7" y1="293.5" x2="506.3" y2="293.5" stroke="#178717" stroke-width="1.3"/>
<path d="M395.29,281.74V289.59M394.49,285.66H396.09M397.95,281.26V288.80M397.15,285.03H398.75M401.20,277.88V288.41M400.40,283.14H402.00M408.64,280.33V286.26M407.84,283.29H409.44M431.09,237.15V259.60M430.29,248.37H431.89M433.14,236.71V257.86M432.34,247.28H433.94M438.59,249.30V263.40M437.79,256.35H439.39M441.34,259.08V273.12M440.54,266.10H442.14M452.34,233.63V254.91M451.54,244.27H453.14M453.81,217.74V239.73M453.01,228.74H454.61M462.11,211.58V235.39M461.31,223.48H462.91M464.85,234.90V243.44M464.05,239.17H465.65M478.94,275.01V288.31M478.14,281.66H479.74M482.17,278.31V288.37M481.37,283.34H482.97M486.21,276.97V287.12M485.41,282.05H487.01M489.75,278.61V290.34M488.95,284.48H490.55M456.20,202.00V218.00M455.40,210.00H457.00M460.70,202.00V222.00M459.90,212.00H461.50M434.50,240.70V256.00M433.70,248.00H435.30M436.40,243.50V258.00M435.60,250.00H437.20M450.40,248.10V262.00M449.60,255.00H451.20" stroke="#1e1e1e" stroke-width="0.9" fill="none"/>
<path d="M392.00,279.40V289.42M391.20,284.41H392.80M402.92,280.89V288.04M402.12,284.47H403.72M405.68,279.39V285.67M404.88,282.53H406.48M411.08,278.68V288.54M410.28,283.61H411.88M419.81,277.82V284.97M419.01,281.39H420.61M421.53,271.86V284.04M420.73,277.95H422.33M423.21,267.75V280.92M422.41,274.33H424.01M424.67,262.84V280.72M423.87,271.78H425.47M427.11,262.78V272.09M426.31,267.44H427.91M436.46,241.75V261.77M435.66,251.76H437.26M437.54,248.49V259.71M436.74,254.10H438.34M447.19,262.89V276.67M446.39,269.78H447.99M449.03,257.33V277.33M448.23,267.33H449.83M459.18,207.46V220.11M458.38,213.79H459.98M468.01,255.06V274.60M467.21,264.83H468.81M476.34,277.58V287.46M475.54,282.52H477.14M459.30,180.50V204.00M458.50,192.10H460.10" stroke="#555" stroke-width="0.9" fill="none"/>
<path d="M414.63,279.66V285.44M413.83,282.55H415.43M417.63,274.19V285.70M416.83,279.94H418.43M444.04,264.37V280.65M443.24,272.51H444.84M456.44,213.55V225.69M455.64,219.62H457.24M457.60,203.04V224.28M456.80,213.66H458.40M463.39,219.56V244.29M462.59,231.93H464.19M470.49,264.96V280.69M469.69,272.83H471.29M472.77,269.05V285.31M471.97,277.18H473.57M491.90,278.66V290.23M491.10,284.45H492.70M495.44,280.25V288.70M494.64,284.47H496.24M498.73,279.31V289.83M497.93,284.57H499.53M500.73,281.72V286.32M499.93,284.02H501.53M503.15,279.06V292.04M502.35,285.55H503.95M457.70,195.00V215.00M456.90,205.00H458.50M431.40,240.70V256.00M430.60,248.00H432.20" stroke="#888" stroke-width="0.9" fill="none"/>
<path d="M390.70,286.69H391.26V286.67H392.70V286.63H394.15V286.58H395.59V286.53H397.04V286.47H398.48V286.40H399.93V286.33H401.37V286.25H402.82V286.16H404.26V286.06H405.71V285.96H407.15V285.86H408.60V285.76H410.04V285.68H411.49V285.59H412.93V285.47H414.38V285.26H415.82V284.82H417.27V284.20H418.71V283.23H420.16V281.81H421.60V279.70H423.05V276.87H424.49V273.19H425.94V270.01H427.38V266.16H428.83V259.04H430.27V253.67H431.72V250.78H433.16V249.61H434.61V251.13H436.05V253.57H437.50V257.06H438.94V262.75H440.39V267.77H441.83V271.54H443.28V274.38H444.72V275.18H446.17V272.92H447.61V269.92H449.06V266.06H450.50V257.75H451.95V244.33H453.39V231.29H454.84V222.51H456.28V217.84H457.73V215.80H459.17V217.89H460.62V222.22H462.06V229.72H463.51V240.93H464.95V253.61H466.40V262.85H467.84V269.16H469.29V273.89H470.73V277.28H472.18V279.88H473.62V281.66H475.07V282.88H476.51V283.62H477.96V284.18H479.40V284.60H480.85V284.89H482.29V285.15H483.74V285.37H485.18V285.56H486.63V285.73H488.07V285.88H489.52V286.01H490.96V286.13H492.41V286.25H493.85V286.37H495.30V286.48H496.74V286.58H498.19V286.68H499.63V286.77H501.08V286.84H502.52V286.91H503.97V286.96H505.41V286.99H506.30" stroke="#ff0a0a" stroke-width="1.6" fill="none" stroke-linejoin="miter" />
<path d="M390.70,292.60H391.26V292.60H392.70V292.60H394.15V292.60H395.59V292.60H397.04V292.60H398.48V292.60H399.93V292.60H401.37V292.60H402.82V292.60H404.26V292.60H405.71V292.57H407.15V292.53H408.60V292.46H410.04V292.39H411.49V292.29H412.93V292.18H414.38V291.93H415.82V291.52H417.27V291.00H418.71V290.29H420.16V289.24H421.60V287.80H423.05V285.46H424.49V282.31H425.94V277.95H427.38V273.25H428.83V267.33H430.27V261.13H431.72V257.15H433.16V255.61H434.61V257.49H436.05V261.44H437.50V267.00H438.94V272.06H440.39V275.81H441.83V279.00H443.28V280.53H444.72V280.94H446.17V279.82H447.61V276.98H449.06V272.13H450.50V260.03H451.95V249.78H453.39V237.85H454.84V227.28H456.28V223.26H457.73V222.30H459.17V223.27H460.62V227.06H462.06V234.58H463.51V250.80H464.95V258.77H466.40V265.59H467.84V274.73H469.29V281.66H470.73V285.81H472.18V288.13H473.62V289.56H475.07V290.41H476.51V291.06H477.96V291.54H479.40V291.90H480.85V292.21H482.29V292.43H483.74V292.51H485.18V292.56H486.63V292.59H488.07V292.63H489.52V292.66H490.96V292.68H492.41V292.71H493.85V292.73H495.30V292.75H496.74V292.76H498.19V292.77H499.63V292.78H501.08V292.79H502.52V292.80H503.97V292.80H505.41V292.80H506.30" stroke="#0a0aff" stroke-width="1.6" fill="none" stroke-linejoin="miter" />
</g>
<rect x="390.7" y="179.0" width="115.60" height="115.20" fill="none" stroke="#858585" stroke-width="1"/>
<line x1="390.70" y1="294.2" x2="390.70" y2="290.70" stroke="#858585" stroke-width="1"/>
<line x1="419.60" y1="294.2" x2="419.60" y2="290.70" stroke="#858585" stroke-width="1"/>
<line x1="448.50" y1="294.2" x2="448.50" y2="290.70" stroke="#858585" stroke-width="1"/>
<line x1="477.40" y1="294.2" x2="477.40" y2="290.70" stroke="#858585" stroke-width="1"/>
<line x1="506.30" y1="294.2" x2="506.30" y2="290.70" stroke="#858585" stroke-width="1"/>
<line x1="390.7" y1="294.20" x2="394.20" y2="294.20" stroke="#858585" stroke-width="1"/>
<line x1="390.7" y1="271.16" x2="394.20" y2="271.16" stroke="#858585" stroke-width="1"/>
<line x1="390.7" y1="248.12" x2="394.20" y2="248.12" stroke="#858585" stroke-width="1"/>
<line x1="390.7" y1="225.08" x2="394.20" y2="225.08" stroke="#858585" stroke-width="1"/>
<line x1="390.7" y1="202.04" x2="394.20" y2="202.04" stroke="#858585" stroke-width="1"/>
<line x1="390.7" y1="179.00" x2="394.20" y2="179.00" stroke="#858585" stroke-width="1"/>
<text x="390.70" y="306.20" text-anchor="middle" font-size="8.2" fill="#262626">7.42</text>
<text x="419.60" y="306.20" text-anchor="middle" font-size="8.2" fill="#262626">7.44</text>
<text x="448.50" y="306.20" text-anchor="middle" font-size="8.2" fill="#262626">7.46</text>
<text x="477.40" y="306.20" text-anchor="middle" font-size="8.2" fill="#262626">7.48</text>
<text x="506.30" y="306.20" text-anchor="middle" font-size="8.2" fill="#262626">7.50</text>
<text x="387.10" y="297.40" text-anchor="end" font-size="8.2" fill="#262626">0</text>
<text x="387.10" y="274.36" text-anchor="end" font-size="8.2" fill="#262626">0.02</text>
<text x="387.10" y="251.32" text-anchor="end" font-size="8.2" fill="#262626">0.04</text>
<text x="387.10" y="228.28" text-anchor="end" font-size="8.2" fill="#262626">0.06</text>
<text x="387.10" y="205.24" text-anchor="end" font-size="8.2" fill="#262626">0.08</text>
<text x="387.10" y="182.20" text-anchor="end" font-size="8.2" fill="#262626">0.<tspan dx="-0.7">1</tspan><tspan dx="-0.7">0</tspan></text>
<text x="448.50" y="319.20" text-anchor="middle" font-size="8.7" fill="#262626" textLength="50.9" lengthAdjust="spacingAndGlyphs">Energy (keV)</text>
<g transform="translate(359.10,0) rotate(-90)"><text x="-283.90" y="0" font-size="8.9" font-style="italic" fill="#262626" textLength="9.70" lengthAdjust="spacingAndGlyphs">EF</text><text x="-274.55" y="1.9" font-size="6.4" font-style="italic" fill="#262626" textLength="4.05" lengthAdjust="spacingAndGlyphs">E</text><text x="-268.20" y="0" font-size="8.9" font-style="normal" fill="#262626" textLength="15.90" lengthAdjust="spacingAndGlyphs">(keV</text><text x="-251.40" y="-4.6" font-size="5.6" font-style="normal" fill="#262626" textLength="4.30" lengthAdjust="spacingAndGlyphs">2</text><text x="-245.60" y="0" font-size="8.9" font-style="normal" fill="#262626" textLength="4.50" lengthAdjust="spacingAndGlyphs">s</text><text x="-241.10" y="-4.6" font-size="5.6" font-style="normal" fill="#262626" textLength="4.90" lengthAdjust="spacingAndGlyphs">−1</text><text x="-233.30" y="0" font-size="8.9" font-style="normal" fill="#262626" textLength="13.30" lengthAdjust="spacingAndGlyphs">keV</text><text x="-219.80" y="-4.6" font-size="5.6" font-style="normal" fill="#262626" textLength="5.40" lengthAdjust="spacingAndGlyphs">−1</text><text x="-210.90" y="0" font-size="8.9" font-style="normal" fill="#262626" textLength="12.40" lengthAdjust="spacingAndGlyphs">cm</text><text x="-198.40" y="-4.6" font-size="5.6" font-style="normal" fill="#262626" textLength="6.60" lengthAdjust="spacingAndGlyphs">−2</text><text x="-192.10" y="0" font-size="8.9" font-style="normal" fill="#262626" textLength="3.00" lengthAdjust="spacingAndGlyphs">)</text></g>
<text x="397.70" y="190.90" font-size="8.7" fill="#262626" textLength="20.61" lengthAdjust="spacingAndGlyphs">Ni Kα</text>
<text x="347.60" y="177.00" font-size="12.8" font-weight="bold" fill="#000" class="L">g</text>
</g>
<line x1="521.9" y1="204.50" x2="535.9" y2="204.50" stroke="#ff0000" stroke-width="1.3"/>
<text x="539.9" y="207.40" font-size="8.7" fill="#262626" textLength="19.0" lengthAdjust="spacingAndGlyphs">Total</text>
<line x1="521.9" y1="216.66" x2="535.9" y2="216.66" stroke="#1ec8c8" stroke-width="1.3"/>
<text x="539.9" y="219.56" font-size="8.7" fill="#262626" textLength="85.7" lengthAdjust="spacingAndGlyphs">Reflection continuum</text>
<line x1="521.9" y1="228.82" x2="535.9" y2="228.82" stroke="#0000ff" stroke-width="1.3"/>
<text x="539.9" y="231.72" font-size="8.7" fill="#262626" textLength="75.0" lengthAdjust="spacingAndGlyphs">Fluorescence lines</text>
<line x1="521.9" y1="240.98" x2="535.9" y2="240.98" stroke="#1a8c1a" stroke-width="1.3"/>
<text x="539.9" y="243.88" font-size="8.7" fill="#262626" textLength="116.1" lengthAdjust="spacingAndGlyphs">Emission from ionized matter</text>
<line x1="522.1" y1="253.14" x2="534.5" y2="253.14" stroke="#8a8a8a" stroke-width="1.1" stroke-dasharray="1.1 2.6"/>
<text x="539.9" y="256.04" font-size="8.7" fill="#262626" textLength="57.3" lengthAdjust="spacingAndGlyphs">CGX1 + diffuse</text>
<line x1="522.1" y1="265.30" x2="534.0" y2="265.30" stroke="#8a8a8a" stroke-width="1.1" stroke-dasharray="5 1.9"/>
<text x="539.9" y="268.20" font-size="8.7" fill="#262626" textLength="22.3" lengthAdjust="spacingAndGlyphs">CGX2</text>
</svg>
</body></html>
